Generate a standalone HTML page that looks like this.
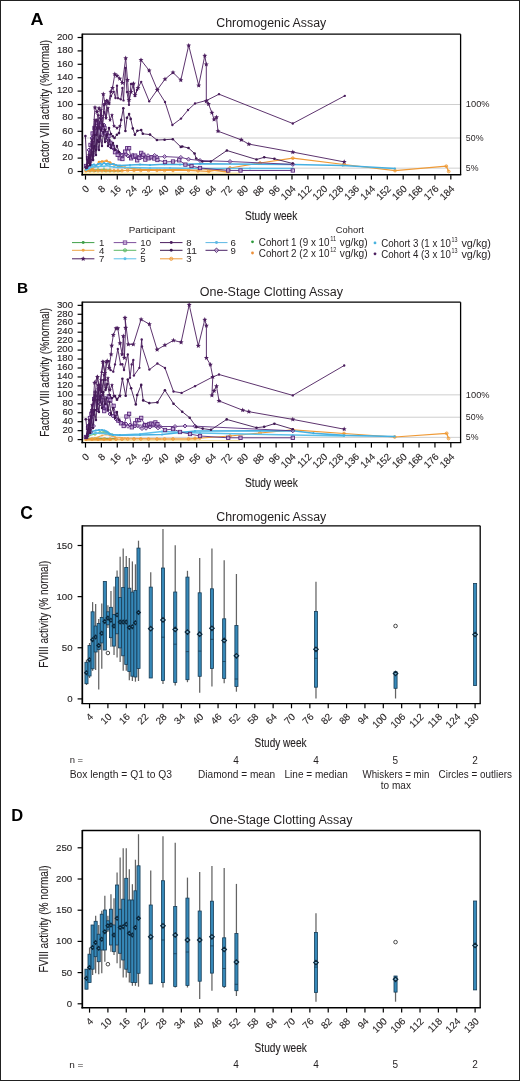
<!DOCTYPE html>
<html><head><meta charset="utf-8"><title>FVIII activity</title>
<style>
html,body{margin:0;padding:0;background:#fff;}
body{width:520px;height:1081px;overflow:hidden;}
svg{display:block;font-family:"Liberation Sans", sans-serif;}
text{-webkit-font-smoothing:antialiased;}
.s{stroke:#231f20;stroke-width:0.13px;}
</style></head>
<body>
<svg style="will-change:transform" fill="#231f20" width="520" height="1081" viewBox="0 0 520 1081">
<rect x="0" y="0" width="520" height="1081" fill="#fff"/>
<text x="30.4" y="24.9" font-size="17.2" font-weight="bold" fill="#000" textLength="13" lengthAdjust="spacingAndGlyphs">A</text>
<text x="216.3" y="27.3" font-size="12" textLength="110" lengthAdjust="spacingAndGlyphs">Chromogenic Assay</text>
<line x1="83" y1="104.5" x2="460" y2="104.5" stroke="#c9c9c9" stroke-width="0.9"/>
<line x1="83" y1="138" x2="460" y2="138" stroke="#c9c9c9" stroke-width="0.9"/>
<line x1="83" y1="168.15" x2="460" y2="168.15" stroke="#c9c9c9" stroke-width="0.9"/>
<line x1="82.3" y1="34.2" x2="460.6" y2="34.2" stroke="#000" stroke-width="1.3"/>
<line x1="460.6" y1="34.2" x2="460.6" y2="175" stroke="#000" stroke-width="1.3"/>
<line x1="82.3" y1="33.6" x2="82.3" y2="175.5" stroke="#000" stroke-width="1.7"/>
<line x1="81.5" y1="174.8" x2="461.2" y2="174.8" stroke="#000" stroke-width="1.4"/>
<line x1="77.6" y1="171.5" x2="82" y2="171.5" stroke="#000" stroke-width="1.2"/>
<text x="73" y="173.7" font-size="9.6" text-anchor="end" class="s">0</text>
<line x1="77.6" y1="158.1" x2="82" y2="158.1" stroke="#000" stroke-width="1.2"/>
<text x="73" y="160.3" font-size="9.6" text-anchor="end" class="s">20</text>
<line x1="77.6" y1="144.7" x2="82" y2="144.7" stroke="#000" stroke-width="1.2"/>
<text x="73" y="146.9" font-size="9.6" text-anchor="end" class="s">40</text>
<line x1="77.6" y1="131.3" x2="82" y2="131.3" stroke="#000" stroke-width="1.2"/>
<text x="73" y="133.5" font-size="9.6" text-anchor="end" class="s">60</text>
<line x1="77.6" y1="117.9" x2="82" y2="117.9" stroke="#000" stroke-width="1.2"/>
<text x="73" y="120.1" font-size="9.6" text-anchor="end" class="s">80</text>
<line x1="77.6" y1="104.5" x2="82" y2="104.5" stroke="#000" stroke-width="1.2"/>
<text x="73" y="106.7" font-size="9.6" text-anchor="end" class="s">100</text>
<line x1="77.6" y1="91.1" x2="82" y2="91.1" stroke="#000" stroke-width="1.2"/>
<text x="73" y="93.3" font-size="9.6" text-anchor="end" class="s">120</text>
<line x1="77.6" y1="77.7" x2="82" y2="77.7" stroke="#000" stroke-width="1.2"/>
<text x="73" y="79.9" font-size="9.6" text-anchor="end" class="s">140</text>
<line x1="77.6" y1="64.3" x2="82" y2="64.3" stroke="#000" stroke-width="1.2"/>
<text x="73" y="66.5" font-size="9.6" text-anchor="end" class="s">160</text>
<line x1="77.6" y1="50.9" x2="82" y2="50.9" stroke="#000" stroke-width="1.2"/>
<text x="73" y="53.1" font-size="9.6" text-anchor="end" class="s">180</text>
<line x1="77.6" y1="37.5" x2="82" y2="37.5" stroke="#000" stroke-width="1.2"/>
<text x="73" y="39.7" font-size="9.6" text-anchor="end" class="s">200</text>
<line x1="85.5" y1="175.3" x2="85.5" y2="179.6" stroke="#000" stroke-width="1.2"/>
<text x="0" y="0" font-size="9.8" text-anchor="end" transform="translate(89.9,189.3) rotate(-45)" class="s">0</text>
<line x1="101.38" y1="175.3" x2="101.38" y2="179.6" stroke="#000" stroke-width="1.2"/>
<text x="0" y="0" font-size="9.8" text-anchor="end" transform="translate(105.78,189.3) rotate(-45)" class="s">8</text>
<line x1="117.27" y1="175.3" x2="117.27" y2="179.6" stroke="#000" stroke-width="1.2"/>
<text x="0" y="0" font-size="9.8" text-anchor="end" transform="translate(121.67,189.3) rotate(-45)" class="s">16</text>
<line x1="133.15" y1="175.3" x2="133.15" y2="179.6" stroke="#000" stroke-width="1.2"/>
<text x="0" y="0" font-size="9.8" text-anchor="end" transform="translate(137.55,189.3) rotate(-45)" class="s">24</text>
<line x1="149.04" y1="175.3" x2="149.04" y2="179.6" stroke="#000" stroke-width="1.2"/>
<text x="0" y="0" font-size="9.8" text-anchor="end" transform="translate(153.44,189.3) rotate(-45)" class="s">32</text>
<line x1="164.92" y1="175.3" x2="164.92" y2="179.6" stroke="#000" stroke-width="1.2"/>
<text x="0" y="0" font-size="9.8" text-anchor="end" transform="translate(169.32,189.3) rotate(-45)" class="s">40</text>
<line x1="180.8" y1="175.3" x2="180.8" y2="179.6" stroke="#000" stroke-width="1.2"/>
<text x="0" y="0" font-size="9.8" text-anchor="end" transform="translate(185.2,189.3) rotate(-45)" class="s">48</text>
<line x1="196.69" y1="175.3" x2="196.69" y2="179.6" stroke="#000" stroke-width="1.2"/>
<text x="0" y="0" font-size="9.8" text-anchor="end" transform="translate(201.09,189.3) rotate(-45)" class="s">56</text>
<line x1="212.57" y1="175.3" x2="212.57" y2="179.6" stroke="#000" stroke-width="1.2"/>
<text x="0" y="0" font-size="9.8" text-anchor="end" transform="translate(216.97,189.3) rotate(-45)" class="s">64</text>
<line x1="228.46" y1="175.3" x2="228.46" y2="179.6" stroke="#000" stroke-width="1.2"/>
<text x="0" y="0" font-size="9.8" text-anchor="end" transform="translate(232.86,189.3) rotate(-45)" class="s">72</text>
<line x1="244.34" y1="175.3" x2="244.34" y2="179.6" stroke="#000" stroke-width="1.2"/>
<text x="0" y="0" font-size="9.8" text-anchor="end" transform="translate(248.74,189.3) rotate(-45)" class="s">80</text>
<line x1="260.22" y1="175.3" x2="260.22" y2="179.6" stroke="#000" stroke-width="1.2"/>
<text x="0" y="0" font-size="9.8" text-anchor="end" transform="translate(264.62,189.3) rotate(-45)" class="s">88</text>
<line x1="276.11" y1="175.3" x2="276.11" y2="179.6" stroke="#000" stroke-width="1.2"/>
<text x="0" y="0" font-size="9.8" text-anchor="end" transform="translate(280.51,189.3) rotate(-45)" class="s">96</text>
<line x1="291.99" y1="175.3" x2="291.99" y2="179.6" stroke="#000" stroke-width="1.2"/>
<text x="0" y="0" font-size="9.8" text-anchor="end" transform="translate(296.39,189.3) rotate(-45)" class="s">104</text>
<line x1="307.88" y1="175.3" x2="307.88" y2="179.6" stroke="#000" stroke-width="1.2"/>
<text x="0" y="0" font-size="9.8" text-anchor="end" transform="translate(312.28,189.3) rotate(-45)" class="s">112</text>
<line x1="323.76" y1="175.3" x2="323.76" y2="179.6" stroke="#000" stroke-width="1.2"/>
<text x="0" y="0" font-size="9.8" text-anchor="end" transform="translate(328.16,189.3) rotate(-45)" class="s">120</text>
<line x1="339.64" y1="175.3" x2="339.64" y2="179.6" stroke="#000" stroke-width="1.2"/>
<text x="0" y="0" font-size="9.8" text-anchor="end" transform="translate(344.04,189.3) rotate(-45)" class="s">128</text>
<line x1="355.53" y1="175.3" x2="355.53" y2="179.6" stroke="#000" stroke-width="1.2"/>
<text x="0" y="0" font-size="9.8" text-anchor="end" transform="translate(359.93,189.3) rotate(-45)" class="s">136</text>
<line x1="371.41" y1="175.3" x2="371.41" y2="179.6" stroke="#000" stroke-width="1.2"/>
<text x="0" y="0" font-size="9.8" text-anchor="end" transform="translate(375.81,189.3) rotate(-45)" class="s">144</text>
<line x1="387.3" y1="175.3" x2="387.3" y2="179.6" stroke="#000" stroke-width="1.2"/>
<text x="0" y="0" font-size="9.8" text-anchor="end" transform="translate(391.7,189.3) rotate(-45)" class="s">152</text>
<line x1="403.18" y1="175.3" x2="403.18" y2="179.6" stroke="#000" stroke-width="1.2"/>
<text x="0" y="0" font-size="9.8" text-anchor="end" transform="translate(407.58,189.3) rotate(-45)" class="s">160</text>
<line x1="419.06" y1="175.3" x2="419.06" y2="179.6" stroke="#000" stroke-width="1.2"/>
<text x="0" y="0" font-size="9.8" text-anchor="end" transform="translate(423.46,189.3) rotate(-45)" class="s">168</text>
<line x1="434.95" y1="175.3" x2="434.95" y2="179.6" stroke="#000" stroke-width="1.2"/>
<text x="0" y="0" font-size="9.8" text-anchor="end" transform="translate(439.35,189.3) rotate(-45)" class="s">176</text>
<line x1="450.83" y1="175.3" x2="450.83" y2="179.6" stroke="#000" stroke-width="1.2"/>
<text x="0" y="0" font-size="9.8" text-anchor="end" transform="translate(455.23,189.3) rotate(-45)" class="s">184</text>
<text x="465.8" y="107.4" font-size="9.6" textLength="23.8" lengthAdjust="spacingAndGlyphs">100%</text>
<text x="465.8" y="140.9" font-size="9.6" textLength="17.7" lengthAdjust="spacingAndGlyphs">50%</text>
<text x="465.8" y="170.55" font-size="9.6" textLength="12.7" lengthAdjust="spacingAndGlyphs">5%</text>
<text x="0" y="0" font-size="12.5" text-anchor="middle" textLength="129" lengthAdjust="spacingAndGlyphs" transform="translate(48.8,104.3) rotate(-90)" class="s">Factor VIII activity (%normal)</text>
<text x="245" y="220.3" font-size="12.8" textLength="52.3" lengthAdjust="spacingAndGlyphs" class="s">Study week</text>
<text x="128.7" y="232.8" font-size="9.4" textLength="46.5" lengthAdjust="spacingAndGlyphs">Participant</text>
<text x="335.8" y="233" font-size="9.6" textLength="28.1" lengthAdjust="spacingAndGlyphs">Cohort</text>
<line x1="72" y1="242.6" x2="94.4" y2="242.6" stroke="#3f9f48" stroke-width="1"/>
<circle cx="83.2" cy="242.6" r="1.49" fill="#3f9f48"/>
<text x="98.9" y="246" font-size="9.7" textLength="5.35" lengthAdjust="spacingAndGlyphs">1</text>
<line x1="72" y1="250.3" x2="94.4" y2="250.3" stroke="#eda445" stroke-width="1"/>
<circle cx="83.2" cy="250.3" r="1.49" fill="#eda445"/>
<text x="98.9" y="253.7" font-size="9.7" textLength="5.35" lengthAdjust="spacingAndGlyphs">4</text>
<line x1="72" y1="258.8" x2="94.4" y2="258.8" stroke="#4b1d5e" stroke-width="1"/>
<polygon points="83.2,256.2 83.89,257.85 85.67,258 84.31,259.16 84.73,260.9 83.2,259.97 81.67,260.9 82.09,259.16 80.73,258 82.51,257.85" fill="#4b1d5e"/>
<text x="98.9" y="262.2" font-size="9.7" textLength="5.35" lengthAdjust="spacingAndGlyphs">7</text>
<line x1="113.7" y1="242.6" x2="136.3" y2="242.6" stroke="#7d4f9c" stroke-width="1"/>
<rect x="123.28" y="240.88" width="3.45" height="3.45" fill="#c9a9dc" fill-opacity="0.7" stroke="#7d4f9c" stroke-width="0.9"/>
<text x="140.3" y="246" font-size="9.7" textLength="10.7" lengthAdjust="spacingAndGlyphs">10</text>
<line x1="113.7" y1="250.3" x2="136.3" y2="250.3" stroke="#5cb865" stroke-width="1"/>
<circle cx="125" cy="250.3" r="1.61" fill="#5cb865" fill-opacity="0.35" stroke="#5cb865" stroke-width="0.8"/>
<text x="140.3" y="253.7" font-size="9.7" textLength="5.35" lengthAdjust="spacingAndGlyphs">2</text>
<line x1="113.7" y1="258.8" x2="136.3" y2="258.8" stroke="#5cc0ea" stroke-width="1"/>
<circle cx="125" cy="258.8" r="1.49" fill="#5cc0ea"/>
<text x="140.3" y="262.2" font-size="9.7" textLength="5.35" lengthAdjust="spacingAndGlyphs">5</text>
<line x1="160" y1="242.6" x2="182.5" y2="242.6" stroke="#4b1d5e" stroke-width="1"/>
<circle cx="171.25" cy="242.6" r="1.49" fill="#4b1d5e"/>
<text x="186.3" y="246" font-size="9.7" textLength="5.35" lengthAdjust="spacingAndGlyphs">8</text>
<line x1="160" y1="250.3" x2="182.5" y2="250.3" stroke="#3d1850" stroke-width="1"/>
<circle cx="171.25" cy="250.3" r="1.49" fill="#3d1850"/>
<text x="186.3" y="253.7" font-size="9.7" textLength="10.7" lengthAdjust="spacingAndGlyphs">11</text>
<line x1="160" y1="258.8" x2="182.5" y2="258.8" stroke="#ee9a3a" stroke-width="1"/>
<circle cx="171.25" cy="258.8" r="1.61" fill="#ee9a3a" fill-opacity="0.35" stroke="#ee9a3a" stroke-width="0.8"/>
<text x="186.3" y="262.2" font-size="9.7" textLength="5.35" lengthAdjust="spacingAndGlyphs">3</text>
<line x1="205.5" y1="242.6" x2="227.5" y2="242.6" stroke="#5cb8e4" stroke-width="1"/>
<circle cx="216.5" cy="242.6" r="1.49" fill="#5cb8e4"/>
<text x="230.5" y="246" font-size="9.7" textLength="5.35" lengthAdjust="spacingAndGlyphs">6</text>
<line x1="205.5" y1="250.3" x2="227.5" y2="250.3" stroke="#4a2266" stroke-width="1"/>
<polygon points="216.5,248 218.8,250.3 216.5,252.6 214.2,250.3" fill="#c9a9dc" fill-opacity="0.6" stroke="#4a2266" stroke-width="0.9"/>
<text x="230.5" y="253.7" font-size="9.7" textLength="5.35" lengthAdjust="spacingAndGlyphs">9</text>
<circle cx="252.5" cy="241.8" r="1.4" fill="#2e9a3c"/>
<text x="258.75" y="246.2" font-size="10.2" textLength="70.8" lengthAdjust="spacingAndGlyphs">Cohort 1 (9 x 10</text>
<text x="330.15" y="241.2" font-size="6.6" textLength="6" lengthAdjust="spacingAndGlyphs">11</text>
<text x="339.85" y="246.2" font-size="10.2" textLength="27.8" lengthAdjust="spacingAndGlyphs">vg/kg)</text>
<circle cx="252.5" cy="253.0" r="1.4" fill="#ec8f3a"/>
<text x="258.75" y="257" font-size="10.2" textLength="70.8" lengthAdjust="spacingAndGlyphs">Cohort 2 (2 x 10</text>
<text x="330.15" y="252" font-size="6.6" textLength="6" lengthAdjust="spacingAndGlyphs">12</text>
<text x="339.85" y="257" font-size="10.2" textLength="27.8" lengthAdjust="spacingAndGlyphs">vg/kg)</text>
<circle cx="375" cy="242.9" r="1.4" fill="#49b3de"/>
<text x="381.2" y="246.7" font-size="10.2" textLength="69.6" lengthAdjust="spacingAndGlyphs">Cohort 3 (1 x 10</text>
<text x="451.4" y="241.7" font-size="6.6" textLength="6" lengthAdjust="spacingAndGlyphs">13</text>
<text x="461.4" y="246.7" font-size="10.2" textLength="29.6" lengthAdjust="spacingAndGlyphs">vg/kg)</text>
<circle cx="375" cy="253.8" r="1.4" fill="#4b1d5e"/>
<text x="381.2" y="257.7" font-size="10.2" textLength="69.6" lengthAdjust="spacingAndGlyphs">Cohort 4 (3 x 10</text>
<text x="451.4" y="252.7" font-size="6.6" textLength="6" lengthAdjust="spacingAndGlyphs">13</text>
<text x="461.4" y="257.7" font-size="10.2" textLength="29.6" lengthAdjust="spacingAndGlyphs">vg/kg)</text>
<text x="17" y="293.3" font-size="15.4" font-weight="bold" fill="#000">B</text>
<text x="199.8" y="295.5" font-size="12" textLength="143.2" lengthAdjust="spacingAndGlyphs">One-Stage Clotting Assay</text>
<line x1="83" y1="394.85" x2="460" y2="394.85" stroke="#c9c9c9" stroke-width="0.9"/>
<line x1="83" y1="417.23" x2="460" y2="417.23" stroke="#c9c9c9" stroke-width="0.9"/>
<line x1="83" y1="437.36" x2="460" y2="437.36" stroke="#c9c9c9" stroke-width="0.9"/>
<line x1="82.3" y1="302.2" x2="460.6" y2="302.2" stroke="#000" stroke-width="1.3"/>
<line x1="460.6" y1="302.2" x2="460.6" y2="442.8" stroke="#000" stroke-width="1.3"/>
<line x1="82.3" y1="301.6" x2="82.3" y2="443.2" stroke="#000" stroke-width="1.7"/>
<line x1="81.5" y1="442.6" x2="461.2" y2="442.6" stroke="#000" stroke-width="1.4"/>
<line x1="77.6" y1="439.6" x2="82" y2="439.6" stroke="#000" stroke-width="1.2"/>
<text x="73" y="441.8" font-size="9.6" text-anchor="end" textLength="5.3" lengthAdjust="spacingAndGlyphs" class="s">0</text>
<line x1="77.6" y1="430.65" x2="82" y2="430.65" stroke="#000" stroke-width="1.2"/>
<text x="73" y="432.85" font-size="9.6" text-anchor="end" textLength="10.6" lengthAdjust="spacingAndGlyphs" class="s">20</text>
<line x1="77.6" y1="421.7" x2="82" y2="421.7" stroke="#000" stroke-width="1.2"/>
<text x="73" y="423.9" font-size="9.6" text-anchor="end" textLength="10.6" lengthAdjust="spacingAndGlyphs" class="s">40</text>
<line x1="77.6" y1="412.75" x2="82" y2="412.75" stroke="#000" stroke-width="1.2"/>
<text x="73" y="414.95" font-size="9.6" text-anchor="end" textLength="10.6" lengthAdjust="spacingAndGlyphs" class="s">60</text>
<line x1="77.6" y1="403.8" x2="82" y2="403.8" stroke="#000" stroke-width="1.2"/>
<text x="73" y="406" font-size="9.6" text-anchor="end" textLength="10.6" lengthAdjust="spacingAndGlyphs" class="s">80</text>
<line x1="77.6" y1="394.85" x2="82" y2="394.85" stroke="#000" stroke-width="1.2"/>
<text x="73" y="397.05" font-size="9.6" text-anchor="end" textLength="16" lengthAdjust="spacingAndGlyphs" class="s">100</text>
<line x1="77.6" y1="385.9" x2="82" y2="385.9" stroke="#000" stroke-width="1.2"/>
<text x="73" y="388.1" font-size="9.6" text-anchor="end" textLength="16" lengthAdjust="spacingAndGlyphs" class="s">120</text>
<line x1="77.6" y1="376.95" x2="82" y2="376.95" stroke="#000" stroke-width="1.2"/>
<text x="73" y="379.15" font-size="9.6" text-anchor="end" textLength="16" lengthAdjust="spacingAndGlyphs" class="s">140</text>
<line x1="77.6" y1="368" x2="82" y2="368" stroke="#000" stroke-width="1.2"/>
<text x="73" y="370.2" font-size="9.6" text-anchor="end" textLength="16" lengthAdjust="spacingAndGlyphs" class="s">160</text>
<line x1="77.6" y1="359.05" x2="82" y2="359.05" stroke="#000" stroke-width="1.2"/>
<text x="73" y="361.25" font-size="9.6" text-anchor="end" textLength="16" lengthAdjust="spacingAndGlyphs" class="s">180</text>
<line x1="77.6" y1="350.1" x2="82" y2="350.1" stroke="#000" stroke-width="1.2"/>
<text x="73" y="352.3" font-size="9.6" text-anchor="end" textLength="16" lengthAdjust="spacingAndGlyphs" class="s">200</text>
<line x1="77.6" y1="341.15" x2="82" y2="341.15" stroke="#000" stroke-width="1.2"/>
<text x="73" y="343.35" font-size="9.6" text-anchor="end" textLength="16" lengthAdjust="spacingAndGlyphs" class="s">220</text>
<line x1="77.6" y1="332.2" x2="82" y2="332.2" stroke="#000" stroke-width="1.2"/>
<text x="73" y="334.4" font-size="9.6" text-anchor="end" textLength="16" lengthAdjust="spacingAndGlyphs" class="s">240</text>
<line x1="77.6" y1="323.25" x2="82" y2="323.25" stroke="#000" stroke-width="1.2"/>
<text x="73" y="325.45" font-size="9.6" text-anchor="end" textLength="16" lengthAdjust="spacingAndGlyphs" class="s">260</text>
<line x1="77.6" y1="314.3" x2="82" y2="314.3" stroke="#000" stroke-width="1.2"/>
<text x="73" y="316.5" font-size="9.6" text-anchor="end" textLength="16" lengthAdjust="spacingAndGlyphs" class="s">280</text>
<line x1="77.6" y1="305.35" x2="82" y2="305.35" stroke="#000" stroke-width="1.2"/>
<text x="73" y="307.55" font-size="9.6" text-anchor="end" textLength="16" lengthAdjust="spacingAndGlyphs" class="s">300</text>
<line x1="85.5" y1="443" x2="85.5" y2="447.6" stroke="#000" stroke-width="1.2"/>
<text x="0" y="0" font-size="9.8" text-anchor="end" transform="translate(89.9,457.3) rotate(-45)" class="s">0</text>
<line x1="101.38" y1="443" x2="101.38" y2="447.6" stroke="#000" stroke-width="1.2"/>
<text x="0" y="0" font-size="9.8" text-anchor="end" transform="translate(105.78,457.3) rotate(-45)" class="s">8</text>
<line x1="117.27" y1="443" x2="117.27" y2="447.6" stroke="#000" stroke-width="1.2"/>
<text x="0" y="0" font-size="9.8" text-anchor="end" transform="translate(121.67,457.3) rotate(-45)" class="s">16</text>
<line x1="133.15" y1="443" x2="133.15" y2="447.6" stroke="#000" stroke-width="1.2"/>
<text x="0" y="0" font-size="9.8" text-anchor="end" transform="translate(137.55,457.3) rotate(-45)" class="s">24</text>
<line x1="149.04" y1="443" x2="149.04" y2="447.6" stroke="#000" stroke-width="1.2"/>
<text x="0" y="0" font-size="9.8" text-anchor="end" transform="translate(153.44,457.3) rotate(-45)" class="s">32</text>
<line x1="164.92" y1="443" x2="164.92" y2="447.6" stroke="#000" stroke-width="1.2"/>
<text x="0" y="0" font-size="9.8" text-anchor="end" transform="translate(169.32,457.3) rotate(-45)" class="s">40</text>
<line x1="180.8" y1="443" x2="180.8" y2="447.6" stroke="#000" stroke-width="1.2"/>
<text x="0" y="0" font-size="9.8" text-anchor="end" transform="translate(185.2,457.3) rotate(-45)" class="s">48</text>
<line x1="196.69" y1="443" x2="196.69" y2="447.6" stroke="#000" stroke-width="1.2"/>
<text x="0" y="0" font-size="9.8" text-anchor="end" transform="translate(201.09,457.3) rotate(-45)" class="s">56</text>
<line x1="212.57" y1="443" x2="212.57" y2="447.6" stroke="#000" stroke-width="1.2"/>
<text x="0" y="0" font-size="9.8" text-anchor="end" transform="translate(216.97,457.3) rotate(-45)" class="s">64</text>
<line x1="228.46" y1="443" x2="228.46" y2="447.6" stroke="#000" stroke-width="1.2"/>
<text x="0" y="0" font-size="9.8" text-anchor="end" transform="translate(232.86,457.3) rotate(-45)" class="s">72</text>
<line x1="244.34" y1="443" x2="244.34" y2="447.6" stroke="#000" stroke-width="1.2"/>
<text x="0" y="0" font-size="9.8" text-anchor="end" transform="translate(248.74,457.3) rotate(-45)" class="s">80</text>
<line x1="260.22" y1="443" x2="260.22" y2="447.6" stroke="#000" stroke-width="1.2"/>
<text x="0" y="0" font-size="9.8" text-anchor="end" transform="translate(264.62,457.3) rotate(-45)" class="s">88</text>
<line x1="276.11" y1="443" x2="276.11" y2="447.6" stroke="#000" stroke-width="1.2"/>
<text x="0" y="0" font-size="9.8" text-anchor="end" transform="translate(280.51,457.3) rotate(-45)" class="s">96</text>
<line x1="291.99" y1="443" x2="291.99" y2="447.6" stroke="#000" stroke-width="1.2"/>
<text x="0" y="0" font-size="9.8" text-anchor="end" transform="translate(296.39,457.3) rotate(-45)" class="s">104</text>
<line x1="307.88" y1="443" x2="307.88" y2="447.6" stroke="#000" stroke-width="1.2"/>
<text x="0" y="0" font-size="9.8" text-anchor="end" transform="translate(312.28,457.3) rotate(-45)" class="s">112</text>
<line x1="323.76" y1="443" x2="323.76" y2="447.6" stroke="#000" stroke-width="1.2"/>
<text x="0" y="0" font-size="9.8" text-anchor="end" transform="translate(328.16,457.3) rotate(-45)" class="s">120</text>
<line x1="339.64" y1="443" x2="339.64" y2="447.6" stroke="#000" stroke-width="1.2"/>
<text x="0" y="0" font-size="9.8" text-anchor="end" transform="translate(344.04,457.3) rotate(-45)" class="s">128</text>
<line x1="355.53" y1="443" x2="355.53" y2="447.6" stroke="#000" stroke-width="1.2"/>
<text x="0" y="0" font-size="9.8" text-anchor="end" transform="translate(359.93,457.3) rotate(-45)" class="s">136</text>
<line x1="371.41" y1="443" x2="371.41" y2="447.6" stroke="#000" stroke-width="1.2"/>
<text x="0" y="0" font-size="9.8" text-anchor="end" transform="translate(375.81,457.3) rotate(-45)" class="s">144</text>
<line x1="387.3" y1="443" x2="387.3" y2="447.6" stroke="#000" stroke-width="1.2"/>
<text x="0" y="0" font-size="9.8" text-anchor="end" transform="translate(391.7,457.3) rotate(-45)" class="s">152</text>
<line x1="403.18" y1="443" x2="403.18" y2="447.6" stroke="#000" stroke-width="1.2"/>
<text x="0" y="0" font-size="9.8" text-anchor="end" transform="translate(407.58,457.3) rotate(-45)" class="s">160</text>
<line x1="419.06" y1="443" x2="419.06" y2="447.6" stroke="#000" stroke-width="1.2"/>
<text x="0" y="0" font-size="9.8" text-anchor="end" transform="translate(423.46,457.3) rotate(-45)" class="s">168</text>
<line x1="434.95" y1="443" x2="434.95" y2="447.6" stroke="#000" stroke-width="1.2"/>
<text x="0" y="0" font-size="9.8" text-anchor="end" transform="translate(439.35,457.3) rotate(-45)" class="s">176</text>
<line x1="450.83" y1="443" x2="450.83" y2="447.6" stroke="#000" stroke-width="1.2"/>
<text x="0" y="0" font-size="9.8" text-anchor="end" transform="translate(455.23,457.3) rotate(-45)" class="s">184</text>
<text x="465.8" y="397.75" font-size="9.6" textLength="23.8" lengthAdjust="spacingAndGlyphs">100%</text>
<text x="465.8" y="420.12" font-size="9.6" textLength="17.7" lengthAdjust="spacingAndGlyphs">50%</text>
<text x="465.8" y="439.76" font-size="9.6" textLength="12.7" lengthAdjust="spacingAndGlyphs">5%</text>
<text x="0" y="0" font-size="12.5" text-anchor="middle" textLength="129" lengthAdjust="spacingAndGlyphs" transform="translate(48.8,372.3) rotate(-90)" class="s">Factor VIII activity (%normal)</text>
<text x="245" y="486.5" font-size="12.8" textLength="52.8" lengthAdjust="spacingAndGlyphs" class="s">Study week</text>
<text x="20.3" y="519.3" font-size="17.5" font-weight="bold" fill="#000">C</text>
<text x="216.3" y="520.5" font-size="12" textLength="110" lengthAdjust="spacingAndGlyphs">Chromogenic Assay</text>
<line x1="82.3" y1="525.8" x2="480.2" y2="525.8" stroke="#000" stroke-width="1.3"/>
<line x1="480.2" y1="525.8" x2="480.2" y2="703.4" stroke="#000" stroke-width="1.3"/>
<line x1="82.3" y1="525.2" x2="82.3" y2="703.8" stroke="#000" stroke-width="1.7"/>
<line x1="81.5" y1="703.6" x2="480.8" y2="703.6" stroke="#000" stroke-width="1.4"/>
<line x1="77.6" y1="698.9" x2="82" y2="698.9" stroke="#000" stroke-width="1.2"/>
<text x="72.6" y="701.9" font-size="9.7" text-anchor="end" fill="#2a2a2a" class="s">0</text>
<line x1="77.6" y1="647.76" x2="82" y2="647.76" stroke="#000" stroke-width="1.2"/>
<text x="72.6" y="650.76" font-size="9.7" text-anchor="end" fill="#2a2a2a" class="s">50</text>
<line x1="77.6" y1="596.63" x2="82" y2="596.63" stroke="#000" stroke-width="1.2"/>
<text x="72.6" y="599.63" font-size="9.7" text-anchor="end" fill="#2a2a2a" class="s">100</text>
<line x1="77.6" y1="545.5" x2="82" y2="545.5" stroke="#000" stroke-width="1.2"/>
<text x="72.6" y="548.5" font-size="9.7" text-anchor="end" fill="#2a2a2a" class="s">150</text>
<line x1="89.54" y1="704" x2="89.54" y2="708.3" stroke="#000" stroke-width="1.2"/>
<text x="0" y="0" font-size="9.8" text-anchor="end" transform="translate(93.94,717.3) rotate(-45)" class="s">4</text>
<line x1="107.9" y1="704" x2="107.9" y2="708.3" stroke="#000" stroke-width="1.2"/>
<text x="0" y="0" font-size="9.8" text-anchor="end" transform="translate(112.3,717.3) rotate(-45)" class="s">10</text>
<line x1="126.26" y1="704" x2="126.26" y2="708.3" stroke="#000" stroke-width="1.2"/>
<text x="0" y="0" font-size="9.8" text-anchor="end" transform="translate(130.66,717.3) rotate(-45)" class="s">16</text>
<line x1="144.62" y1="704" x2="144.62" y2="708.3" stroke="#000" stroke-width="1.2"/>
<text x="0" y="0" font-size="9.8" text-anchor="end" transform="translate(149.02,717.3) rotate(-45)" class="s">22</text>
<line x1="162.98" y1="704" x2="162.98" y2="708.3" stroke="#000" stroke-width="1.2"/>
<text x="0" y="0" font-size="9.8" text-anchor="end" transform="translate(167.38,717.3) rotate(-45)" class="s">28</text>
<line x1="181.34" y1="704" x2="181.34" y2="708.3" stroke="#000" stroke-width="1.2"/>
<text x="0" y="0" font-size="9.8" text-anchor="end" transform="translate(185.74,717.3) rotate(-45)" class="s">34</text>
<line x1="199.7" y1="704" x2="199.7" y2="708.3" stroke="#000" stroke-width="1.2"/>
<text x="0" y="0" font-size="9.8" text-anchor="end" transform="translate(204.1,717.3) rotate(-45)" class="s">40</text>
<line x1="218.06" y1="704" x2="218.06" y2="708.3" stroke="#000" stroke-width="1.2"/>
<text x="0" y="0" font-size="9.8" text-anchor="end" transform="translate(222.46,717.3) rotate(-45)" class="s">46</text>
<line x1="236.42" y1="704" x2="236.42" y2="708.3" stroke="#000" stroke-width="1.2"/>
<text x="0" y="0" font-size="9.8" text-anchor="end" transform="translate(240.82,717.3) rotate(-45)" class="s">52</text>
<line x1="254.78" y1="704" x2="254.78" y2="708.3" stroke="#000" stroke-width="1.2"/>
<text x="0" y="0" font-size="9.8" text-anchor="end" transform="translate(259.18,717.3) rotate(-45)" class="s">58</text>
<line x1="273.14" y1="704" x2="273.14" y2="708.3" stroke="#000" stroke-width="1.2"/>
<text x="0" y="0" font-size="9.8" text-anchor="end" transform="translate(277.54,717.3) rotate(-45)" class="s">64</text>
<line x1="291.5" y1="704" x2="291.5" y2="708.3" stroke="#000" stroke-width="1.2"/>
<text x="0" y="0" font-size="9.8" text-anchor="end" transform="translate(295.9,717.3) rotate(-45)" class="s">70</text>
<line x1="309.86" y1="704" x2="309.86" y2="708.3" stroke="#000" stroke-width="1.2"/>
<text x="0" y="0" font-size="9.8" text-anchor="end" transform="translate(314.26,717.3) rotate(-45)" class="s">76</text>
<line x1="328.22" y1="704" x2="328.22" y2="708.3" stroke="#000" stroke-width="1.2"/>
<text x="0" y="0" font-size="9.8" text-anchor="end" transform="translate(332.62,717.3) rotate(-45)" class="s">82</text>
<line x1="346.58" y1="704" x2="346.58" y2="708.3" stroke="#000" stroke-width="1.2"/>
<text x="0" y="0" font-size="9.8" text-anchor="end" transform="translate(350.98,717.3) rotate(-45)" class="s">88</text>
<line x1="364.94" y1="704" x2="364.94" y2="708.3" stroke="#000" stroke-width="1.2"/>
<text x="0" y="0" font-size="9.8" text-anchor="end" transform="translate(369.34,717.3) rotate(-45)" class="s">94</text>
<line x1="383.3" y1="704" x2="383.3" y2="708.3" stroke="#000" stroke-width="1.2"/>
<text x="0" y="0" font-size="9.8" text-anchor="end" transform="translate(387.7,717.3) rotate(-45)" class="s">100</text>
<line x1="401.66" y1="704" x2="401.66" y2="708.3" stroke="#000" stroke-width="1.2"/>
<text x="0" y="0" font-size="9.8" text-anchor="end" transform="translate(406.06,717.3) rotate(-45)" class="s">106</text>
<line x1="420.02" y1="704" x2="420.02" y2="708.3" stroke="#000" stroke-width="1.2"/>
<text x="0" y="0" font-size="9.8" text-anchor="end" transform="translate(424.42,717.3) rotate(-45)" class="s">112</text>
<line x1="438.38" y1="704" x2="438.38" y2="708.3" stroke="#000" stroke-width="1.2"/>
<text x="0" y="0" font-size="9.8" text-anchor="end" transform="translate(442.78,717.3) rotate(-45)" class="s">118</text>
<line x1="456.74" y1="704" x2="456.74" y2="708.3" stroke="#000" stroke-width="1.2"/>
<text x="0" y="0" font-size="9.8" text-anchor="end" transform="translate(461.14,717.3) rotate(-45)" class="s">124</text>
<line x1="475.1" y1="704" x2="475.1" y2="708.3" stroke="#000" stroke-width="1.2"/>
<text x="0" y="0" font-size="9.8" text-anchor="end" transform="translate(479.5,717.3) rotate(-45)" class="s">130</text>
<text x="0" y="0" font-size="13" text-anchor="middle" textLength="107" lengthAdjust="spacingAndGlyphs" transform="translate(47.9,614.2) rotate(-90)" class="s">FVIII activity (% normal)</text>
<text x="254.6" y="747.3" font-size="12.8" textLength="51.9" lengthAdjust="spacingAndGlyphs" class="s">Study week</text>
<text x="69.7" y="762.5" font-size="9.5" textLength="13.4" lengthAdjust="spacingAndGlyphs">n =</text>
<text x="236" y="763.5" font-size="10" text-anchor="middle">4</text>
<text x="316" y="763.5" font-size="10" text-anchor="middle">4</text>
<text x="395.4" y="763.5" font-size="10" text-anchor="middle">5</text>
<text x="475" y="763.5" font-size="10" text-anchor="middle">2</text>
<text x="69.7" y="778.2" font-size="10" textLength="102.3" lengthAdjust="spacingAndGlyphs">Box length = Q1 to Q3</text>
<text x="198" y="778.2" font-size="10" textLength="77.2" lengthAdjust="spacingAndGlyphs">Diamond = mean</text>
<text x="284.5" y="778.2" font-size="10" textLength="63.3" lengthAdjust="spacingAndGlyphs">Line = median</text>
<text x="362.5" y="778.2" font-size="10" textLength="66.8" lengthAdjust="spacingAndGlyphs">Whiskers = min</text>
<text x="380.8" y="788.8" font-size="10" textLength="30.2" lengthAdjust="spacingAndGlyphs">to max</text>
<text x="438.6" y="778.2" font-size="10" textLength="73.4" lengthAdjust="spacingAndGlyphs">Circles = outliers</text>
<text x="11.3" y="821.3" font-size="16.5" font-weight="bold" fill="#000">D</text>
<text x="209.6" y="823.6" font-size="12" textLength="142.8" lengthAdjust="spacingAndGlyphs">One-Stage Clotting Assay</text>
<line x1="82.3" y1="830.5" x2="480.2" y2="830.5" stroke="#000" stroke-width="1.3"/>
<line x1="480.2" y1="830.5" x2="480.2" y2="1008" stroke="#000" stroke-width="1.3"/>
<line x1="82.3" y1="830" x2="82.3" y2="1008.4" stroke="#000" stroke-width="1.7"/>
<line x1="81.5" y1="1007.8" x2="480.8" y2="1007.8" stroke="#000" stroke-width="1.4"/>
<line x1="77.6" y1="1003.8" x2="82" y2="1003.8" stroke="#000" stroke-width="1.2"/>
<text x="72.2" y="1006.8" font-size="9.7" text-anchor="end" fill="#2a2a2a" class="s">0</text>
<line x1="77.6" y1="972.6" x2="82" y2="972.6" stroke="#000" stroke-width="1.2"/>
<text x="72.2" y="975.6" font-size="9.7" text-anchor="end" fill="#2a2a2a" class="s">50</text>
<line x1="77.6" y1="941.4" x2="82" y2="941.4" stroke="#000" stroke-width="1.2"/>
<text x="72.2" y="944.4" font-size="9.7" text-anchor="end" fill="#2a2a2a" class="s">100</text>
<line x1="77.6" y1="910.2" x2="82" y2="910.2" stroke="#000" stroke-width="1.2"/>
<text x="72.2" y="913.2" font-size="9.7" text-anchor="end" fill="#2a2a2a" class="s">150</text>
<line x1="77.6" y1="879" x2="82" y2="879" stroke="#000" stroke-width="1.2"/>
<text x="72.2" y="882" font-size="9.7" text-anchor="end" fill="#2a2a2a" class="s">200</text>
<line x1="77.6" y1="847.8" x2="82" y2="847.8" stroke="#000" stroke-width="1.2"/>
<text x="72.2" y="850.8" font-size="9.7" text-anchor="end" fill="#2a2a2a" class="s">250</text>
<line x1="89.54" y1="1008.2" x2="89.54" y2="1012.6" stroke="#000" stroke-width="1.2"/>
<text x="0" y="0" font-size="9.8" text-anchor="end" transform="translate(93.94,1021.9) rotate(-45)" class="s">4</text>
<line x1="107.9" y1="1008.2" x2="107.9" y2="1012.6" stroke="#000" stroke-width="1.2"/>
<text x="0" y="0" font-size="9.8" text-anchor="end" transform="translate(112.3,1021.9) rotate(-45)" class="s">10</text>
<line x1="126.26" y1="1008.2" x2="126.26" y2="1012.6" stroke="#000" stroke-width="1.2"/>
<text x="0" y="0" font-size="9.8" text-anchor="end" transform="translate(130.66,1021.9) rotate(-45)" class="s">16</text>
<line x1="144.62" y1="1008.2" x2="144.62" y2="1012.6" stroke="#000" stroke-width="1.2"/>
<text x="0" y="0" font-size="9.8" text-anchor="end" transform="translate(149.02,1021.9) rotate(-45)" class="s">22</text>
<line x1="162.98" y1="1008.2" x2="162.98" y2="1012.6" stroke="#000" stroke-width="1.2"/>
<text x="0" y="0" font-size="9.8" text-anchor="end" transform="translate(167.38,1021.9) rotate(-45)" class="s">28</text>
<line x1="181.34" y1="1008.2" x2="181.34" y2="1012.6" stroke="#000" stroke-width="1.2"/>
<text x="0" y="0" font-size="9.8" text-anchor="end" transform="translate(185.74,1021.9) rotate(-45)" class="s">34</text>
<line x1="199.7" y1="1008.2" x2="199.7" y2="1012.6" stroke="#000" stroke-width="1.2"/>
<text x="0" y="0" font-size="9.8" text-anchor="end" transform="translate(204.1,1021.9) rotate(-45)" class="s">40</text>
<line x1="218.06" y1="1008.2" x2="218.06" y2="1012.6" stroke="#000" stroke-width="1.2"/>
<text x="0" y="0" font-size="9.8" text-anchor="end" transform="translate(222.46,1021.9) rotate(-45)" class="s">46</text>
<line x1="236.42" y1="1008.2" x2="236.42" y2="1012.6" stroke="#000" stroke-width="1.2"/>
<text x="0" y="0" font-size="9.8" text-anchor="end" transform="translate(240.82,1021.9) rotate(-45)" class="s">52</text>
<line x1="254.78" y1="1008.2" x2="254.78" y2="1012.6" stroke="#000" stroke-width="1.2"/>
<text x="0" y="0" font-size="9.8" text-anchor="end" transform="translate(259.18,1021.9) rotate(-45)" class="s">58</text>
<line x1="273.14" y1="1008.2" x2="273.14" y2="1012.6" stroke="#000" stroke-width="1.2"/>
<text x="0" y="0" font-size="9.8" text-anchor="end" transform="translate(277.54,1021.9) rotate(-45)" class="s">64</text>
<line x1="291.5" y1="1008.2" x2="291.5" y2="1012.6" stroke="#000" stroke-width="1.2"/>
<text x="0" y="0" font-size="9.8" text-anchor="end" transform="translate(295.9,1021.9) rotate(-45)" class="s">70</text>
<line x1="309.86" y1="1008.2" x2="309.86" y2="1012.6" stroke="#000" stroke-width="1.2"/>
<text x="0" y="0" font-size="9.8" text-anchor="end" transform="translate(314.26,1021.9) rotate(-45)" class="s">76</text>
<line x1="328.22" y1="1008.2" x2="328.22" y2="1012.6" stroke="#000" stroke-width="1.2"/>
<text x="0" y="0" font-size="9.8" text-anchor="end" transform="translate(332.62,1021.9) rotate(-45)" class="s">82</text>
<line x1="346.58" y1="1008.2" x2="346.58" y2="1012.6" stroke="#000" stroke-width="1.2"/>
<text x="0" y="0" font-size="9.8" text-anchor="end" transform="translate(350.98,1021.9) rotate(-45)" class="s">88</text>
<line x1="364.94" y1="1008.2" x2="364.94" y2="1012.6" stroke="#000" stroke-width="1.2"/>
<text x="0" y="0" font-size="9.8" text-anchor="end" transform="translate(369.34,1021.9) rotate(-45)" class="s">94</text>
<line x1="383.3" y1="1008.2" x2="383.3" y2="1012.6" stroke="#000" stroke-width="1.2"/>
<text x="0" y="0" font-size="9.8" text-anchor="end" transform="translate(387.7,1021.9) rotate(-45)" class="s">100</text>
<line x1="401.66" y1="1008.2" x2="401.66" y2="1012.6" stroke="#000" stroke-width="1.2"/>
<text x="0" y="0" font-size="9.8" text-anchor="end" transform="translate(406.06,1021.9) rotate(-45)" class="s">106</text>
<line x1="420.02" y1="1008.2" x2="420.02" y2="1012.6" stroke="#000" stroke-width="1.2"/>
<text x="0" y="0" font-size="9.8" text-anchor="end" transform="translate(424.42,1021.9) rotate(-45)" class="s">112</text>
<line x1="438.38" y1="1008.2" x2="438.38" y2="1012.6" stroke="#000" stroke-width="1.2"/>
<text x="0" y="0" font-size="9.8" text-anchor="end" transform="translate(442.78,1021.9) rotate(-45)" class="s">118</text>
<line x1="456.74" y1="1008.2" x2="456.74" y2="1012.6" stroke="#000" stroke-width="1.2"/>
<text x="0" y="0" font-size="9.8" text-anchor="end" transform="translate(461.14,1021.9) rotate(-45)" class="s">124</text>
<line x1="475.1" y1="1008.2" x2="475.1" y2="1012.6" stroke="#000" stroke-width="1.2"/>
<text x="0" y="0" font-size="9.8" text-anchor="end" transform="translate(479.5,1021.9) rotate(-45)" class="s">130</text>
<text x="0" y="0" font-size="13" text-anchor="middle" textLength="107" lengthAdjust="spacingAndGlyphs" transform="translate(47.9,919) rotate(-90)" class="s">FVIII activity (% normal)</text>
<text x="254.6" y="1051.6" font-size="12.8" textLength="52.3" lengthAdjust="spacingAndGlyphs" class="s">Study week</text>
<text x="69.2" y="1068.3" font-size="9.5" textLength="14.2" lengthAdjust="spacingAndGlyphs">n =</text>
<text x="236" y="1068.2" font-size="10" text-anchor="middle">4</text>
<text x="316" y="1068.2" font-size="10" text-anchor="middle">4</text>
<text x="395.4" y="1068.2" font-size="10" text-anchor="middle">5</text>
<text x="475" y="1068.2" font-size="10" text-anchor="middle">2</text>
<polyline points="83,173.3 240,173.3" fill="none" stroke="#f4e3a6" stroke-width="1.6" stroke-linejoin="round"/>
<polyline points="86,170 92,169.5 98,169.8 104,169.6 110,170" fill="none" stroke="#72c272" stroke-width="1.2" stroke-linejoin="round"/>
<circle cx="86" cy="170" r="1.12" fill="#72c272" fill-opacity="0.35" stroke="#72c272" stroke-width="0.8"/>
<circle cx="92" cy="169.5" r="1.12" fill="#72c272" fill-opacity="0.35" stroke="#72c272" stroke-width="0.8"/>
<circle cx="98" cy="169.8" r="1.12" fill="#72c272" fill-opacity="0.35" stroke="#72c272" stroke-width="0.8"/>
<circle cx="104" cy="169.6" r="1.12" fill="#72c272" fill-opacity="0.35" stroke="#72c272" stroke-width="0.8"/>
<circle cx="110" cy="170" r="1.12" fill="#72c272" fill-opacity="0.35" stroke="#72c272" stroke-width="0.8"/>
<polyline points="86,171 90,170.8 95,171 100,170.5 105,170.8 110,171 115,170.8 120,171" fill="none" stroke="#45a84e" stroke-width="1.2" stroke-linejoin="round"/>
<circle cx="86" cy="171" r="0.9" fill="#45a84e"/>
<circle cx="90" cy="170.8" r="0.9" fill="#45a84e"/>
<circle cx="95" cy="171" r="0.9" fill="#45a84e"/>
<circle cx="100" cy="170.5" r="0.9" fill="#45a84e"/>
<circle cx="105" cy="170.8" r="0.9" fill="#45a84e"/>
<circle cx="110" cy="171" r="0.9" fill="#45a84e"/>
<circle cx="115" cy="170.8" r="0.9" fill="#45a84e"/>
<circle cx="120" cy="171" r="0.9" fill="#45a84e"/>
<polyline points="86,171 92,169 96,166 99,162 102,161.5 106.6,160.8 110,162.5 114,164.5 118,166 125,167.5 140,169.5 160,170 200,168.5 228,172" fill="none" stroke="#ef9a36" stroke-width="1.3" stroke-linejoin="round"/>
<circle cx="86" cy="171" r="1.3" fill="#ef9a36"/>
<circle cx="92" cy="169" r="1.3" fill="#ef9a36"/>
<circle cx="96" cy="166" r="1.3" fill="#ef9a36"/>
<circle cx="99" cy="162" r="1.3" fill="#ef9a36"/>
<circle cx="102" cy="161.5" r="1.3" fill="#ef9a36"/>
<circle cx="106.6" cy="160.8" r="1.3" fill="#ef9a36"/>
<circle cx="110" cy="162.5" r="1.3" fill="#ef9a36"/>
<circle cx="114" cy="164.5" r="1.3" fill="#ef9a36"/>
<circle cx="118" cy="166" r="1.3" fill="#ef9a36"/>
<circle cx="125" cy="167.5" r="1.3" fill="#ef9a36"/>
<circle cx="140" cy="169.5" r="1.3" fill="#ef9a36"/>
<circle cx="160" cy="170" r="1.3" fill="#ef9a36"/>
<circle cx="200" cy="168.5" r="1.3" fill="#ef9a36"/>
<circle cx="228" cy="172" r="1.3" fill="#ef9a36"/>
<polyline points="86,170.6 90,170.6 94,170.6 98,170.6 102,170.6 106,170.6 110,170.6 114,170.6 118,170.6 122,170.6 127.7,170.4 134,170.4 140.8,170.4 148.5,170.4 157,170.4 164.6,170.4 173,170.4 188.5,170.4 198,170.8 208.7,171.3 230,168 260,163 292.8,158.2 344,164.5 395,170.6 446.3,166.2 448.7,171.5" fill="none" stroke="#ef9a36" stroke-width="1.2" stroke-linejoin="round"/>
<circle cx="86" cy="170.6" r="1.4" fill="#ef9a36" fill-opacity="0.35" stroke="#ef9a36" stroke-width="0.8"/>
<circle cx="90" cy="170.6" r="1.4" fill="#ef9a36" fill-opacity="0.35" stroke="#ef9a36" stroke-width="0.8"/>
<circle cx="94" cy="170.6" r="1.4" fill="#ef9a36" fill-opacity="0.35" stroke="#ef9a36" stroke-width="0.8"/>
<circle cx="98" cy="170.6" r="1.4" fill="#ef9a36" fill-opacity="0.35" stroke="#ef9a36" stroke-width="0.8"/>
<circle cx="102" cy="170.6" r="1.4" fill="#ef9a36" fill-opacity="0.35" stroke="#ef9a36" stroke-width="0.8"/>
<circle cx="106" cy="170.6" r="1.4" fill="#ef9a36" fill-opacity="0.35" stroke="#ef9a36" stroke-width="0.8"/>
<circle cx="110" cy="170.6" r="1.4" fill="#ef9a36" fill-opacity="0.35" stroke="#ef9a36" stroke-width="0.8"/>
<circle cx="114" cy="170.6" r="1.4" fill="#ef9a36" fill-opacity="0.35" stroke="#ef9a36" stroke-width="0.8"/>
<circle cx="118" cy="170.6" r="1.4" fill="#ef9a36" fill-opacity="0.35" stroke="#ef9a36" stroke-width="0.8"/>
<circle cx="122" cy="170.6" r="1.4" fill="#ef9a36" fill-opacity="0.35" stroke="#ef9a36" stroke-width="0.8"/>
<circle cx="127.7" cy="170.4" r="1.4" fill="#ef9a36" fill-opacity="0.35" stroke="#ef9a36" stroke-width="0.8"/>
<circle cx="134" cy="170.4" r="1.4" fill="#ef9a36" fill-opacity="0.35" stroke="#ef9a36" stroke-width="0.8"/>
<circle cx="140.8" cy="170.4" r="1.4" fill="#ef9a36" fill-opacity="0.35" stroke="#ef9a36" stroke-width="0.8"/>
<circle cx="148.5" cy="170.4" r="1.4" fill="#ef9a36" fill-opacity="0.35" stroke="#ef9a36" stroke-width="0.8"/>
<circle cx="157" cy="170.4" r="1.4" fill="#ef9a36" fill-opacity="0.35" stroke="#ef9a36" stroke-width="0.8"/>
<circle cx="164.6" cy="170.4" r="1.4" fill="#ef9a36" fill-opacity="0.35" stroke="#ef9a36" stroke-width="0.8"/>
<circle cx="173" cy="170.4" r="1.4" fill="#ef9a36" fill-opacity="0.35" stroke="#ef9a36" stroke-width="0.8"/>
<circle cx="188.5" cy="170.4" r="1.4" fill="#ef9a36" fill-opacity="0.35" stroke="#ef9a36" stroke-width="0.8"/>
<circle cx="198" cy="170.8" r="1.4" fill="#ef9a36" fill-opacity="0.35" stroke="#ef9a36" stroke-width="0.8"/>
<circle cx="208.7" cy="171.3" r="1.4" fill="#ef9a36" fill-opacity="0.35" stroke="#ef9a36" stroke-width="0.8"/>
<circle cx="230" cy="168" r="1.4" fill="#ef9a36" fill-opacity="0.35" stroke="#ef9a36" stroke-width="0.8"/>
<circle cx="260" cy="163" r="1.4" fill="#ef9a36" fill-opacity="0.35" stroke="#ef9a36" stroke-width="0.8"/>
<circle cx="292.8" cy="158.2" r="1.4" fill="#ef9a36" fill-opacity="0.35" stroke="#ef9a36" stroke-width="0.8"/>
<circle cx="344" cy="164.5" r="1.4" fill="#ef9a36" fill-opacity="0.35" stroke="#ef9a36" stroke-width="0.8"/>
<circle cx="395" cy="170.6" r="1.4" fill="#ef9a36" fill-opacity="0.35" stroke="#ef9a36" stroke-width="0.8"/>
<circle cx="446.3" cy="166.2" r="1.4" fill="#ef9a36" fill-opacity="0.35" stroke="#ef9a36" stroke-width="0.8"/>
<circle cx="448.7" cy="171.5" r="1.4" fill="#ef9a36" fill-opacity="0.35" stroke="#ef9a36" stroke-width="0.8"/>
<polyline points="86,170 89,168.5 92,167 95,166.5 98,166.8 101,166 104,166.5 107,165.5 110,166.5 114,167 118,167.5 130,167.5 150,168 170,168 200,168.5 250,168.5 292.8,168.5" fill="none" stroke="#5cc0ea" stroke-width="1.5" stroke-linejoin="round"/>
<circle cx="86" cy="170" r="1.08" fill="#5cc0ea"/>
<circle cx="89" cy="168.5" r="1.08" fill="#5cc0ea"/>
<circle cx="92" cy="167" r="1.08" fill="#5cc0ea"/>
<circle cx="95" cy="166.5" r="1.08" fill="#5cc0ea"/>
<circle cx="98" cy="166.8" r="1.08" fill="#5cc0ea"/>
<circle cx="101" cy="166" r="1.08" fill="#5cc0ea"/>
<circle cx="104" cy="166.5" r="1.08" fill="#5cc0ea"/>
<circle cx="107" cy="165.5" r="1.08" fill="#5cc0ea"/>
<circle cx="110" cy="166.5" r="1.08" fill="#5cc0ea"/>
<circle cx="114" cy="167" r="1.08" fill="#5cc0ea"/>
<circle cx="118" cy="167.5" r="1.08" fill="#5cc0ea"/>
<circle cx="130" cy="167.5" r="1.08" fill="#5cc0ea"/>
<circle cx="150" cy="168" r="1.08" fill="#5cc0ea"/>
<circle cx="170" cy="168" r="1.08" fill="#5cc0ea"/>
<circle cx="200" cy="168.5" r="1.08" fill="#5cc0ea"/>
<circle cx="250" cy="168.5" r="1.08" fill="#5cc0ea"/>
<circle cx="292.8" cy="168.5" r="1.08" fill="#5cc0ea"/>
<polyline points="86,169 88,167 90,166 92,165 94,164.5 96,165.5 98,164 100,163.5 102,164.5 104,163 106,164 108,163.5 110,164.5 113,164 116,165 120,165.5 130,165 140,164.5 150,165 164.6,164.2 180,164.5 200,163.8 292.8,164.4 342.7,165.6 395,168.5" fill="none" stroke="#45b0e2" stroke-width="1.5" stroke-linejoin="round"/>
<circle cx="86" cy="169" r="1.08" fill="#45b0e2"/>
<circle cx="88" cy="167" r="1.08" fill="#45b0e2"/>
<circle cx="90" cy="166" r="1.08" fill="#45b0e2"/>
<circle cx="92" cy="165" r="1.08" fill="#45b0e2"/>
<circle cx="94" cy="164.5" r="1.08" fill="#45b0e2"/>
<circle cx="96" cy="165.5" r="1.08" fill="#45b0e2"/>
<circle cx="98" cy="164" r="1.08" fill="#45b0e2"/>
<circle cx="100" cy="163.5" r="1.08" fill="#45b0e2"/>
<circle cx="102" cy="164.5" r="1.08" fill="#45b0e2"/>
<circle cx="104" cy="163" r="1.08" fill="#45b0e2"/>
<circle cx="106" cy="164" r="1.08" fill="#45b0e2"/>
<circle cx="108" cy="163.5" r="1.08" fill="#45b0e2"/>
<circle cx="110" cy="164.5" r="1.08" fill="#45b0e2"/>
<circle cx="113" cy="164" r="1.08" fill="#45b0e2"/>
<circle cx="116" cy="165" r="1.08" fill="#45b0e2"/>
<circle cx="120" cy="165.5" r="1.08" fill="#45b0e2"/>
<circle cx="130" cy="165" r="1.08" fill="#45b0e2"/>
<circle cx="140" cy="164.5" r="1.08" fill="#45b0e2"/>
<circle cx="150" cy="165" r="1.08" fill="#45b0e2"/>
<circle cx="164.6" cy="164.2" r="1.08" fill="#45b0e2"/>
<circle cx="180" cy="164.5" r="1.08" fill="#45b0e2"/>
<circle cx="200" cy="163.8" r="1.08" fill="#45b0e2"/>
<circle cx="292.8" cy="164.4" r="1.08" fill="#45b0e2"/>
<circle cx="342.7" cy="165.6" r="1.08" fill="#45b0e2"/>
<circle cx="395" cy="168.5" r="1.08" fill="#45b0e2"/>
<polyline points="87,166 89,150 90.5,160 92,138 93.5,155 95,128 96.5,148 98,122 99.5,140 101,118 102.5,135 104,125 106,140 108,135 110,146 113,148 116,151 119,153 122,155 124,154.63 126,154.27 128,156 130.33,156.94 132.67,154.96 135,157 137.33,157.14 139.67,156.46 142,157 144,155.41 146,157.38 148,155.67 150,157.7 152.3,157.17 154.6,155.45 156.9,156.9 164.6,156.6 180.8,157.4 188.5,159.2 200,160.5 230,161.5 292.8,164.4" fill="none" stroke="#5a2f7e" stroke-width="0.9" stroke-linejoin="round"/>
<polygon points="87,164 89,166 87,168 85,166" fill="#c9a9dc" fill-opacity="0.6" stroke="#5a2f7e" stroke-width="0.9"/>
<polygon points="89,148 91,150 89,152 87,150" fill="#c9a9dc" fill-opacity="0.6" stroke="#5a2f7e" stroke-width="0.9"/>
<polygon points="90.5,158 92.5,160 90.5,162 88.5,160" fill="#c9a9dc" fill-opacity="0.6" stroke="#5a2f7e" stroke-width="0.9"/>
<polygon points="92,136 94,138 92,140 90,138" fill="#c9a9dc" fill-opacity="0.6" stroke="#5a2f7e" stroke-width="0.9"/>
<polygon points="93.5,153 95.5,155 93.5,157 91.5,155" fill="#c9a9dc" fill-opacity="0.6" stroke="#5a2f7e" stroke-width="0.9"/>
<polygon points="95,126 97,128 95,130 93,128" fill="#c9a9dc" fill-opacity="0.6" stroke="#5a2f7e" stroke-width="0.9"/>
<polygon points="96.5,146 98.5,148 96.5,150 94.5,148" fill="#c9a9dc" fill-opacity="0.6" stroke="#5a2f7e" stroke-width="0.9"/>
<polygon points="98,120 100,122 98,124 96,122" fill="#c9a9dc" fill-opacity="0.6" stroke="#5a2f7e" stroke-width="0.9"/>
<polygon points="99.5,138 101.5,140 99.5,142 97.5,140" fill="#c9a9dc" fill-opacity="0.6" stroke="#5a2f7e" stroke-width="0.9"/>
<polygon points="101,116 103,118 101,120 99,118" fill="#c9a9dc" fill-opacity="0.6" stroke="#5a2f7e" stroke-width="0.9"/>
<polygon points="102.5,133 104.5,135 102.5,137 100.5,135" fill="#c9a9dc" fill-opacity="0.6" stroke="#5a2f7e" stroke-width="0.9"/>
<polygon points="104,123 106,125 104,127 102,125" fill="#c9a9dc" fill-opacity="0.6" stroke="#5a2f7e" stroke-width="0.9"/>
<polygon points="106,138 108,140 106,142 104,140" fill="#c9a9dc" fill-opacity="0.6" stroke="#5a2f7e" stroke-width="0.9"/>
<polygon points="108,133 110,135 108,137 106,135" fill="#c9a9dc" fill-opacity="0.6" stroke="#5a2f7e" stroke-width="0.9"/>
<polygon points="110,144 112,146 110,148 108,146" fill="#c9a9dc" fill-opacity="0.6" stroke="#5a2f7e" stroke-width="0.9"/>
<polygon points="113,146 115,148 113,150 111,148" fill="#c9a9dc" fill-opacity="0.6" stroke="#5a2f7e" stroke-width="0.9"/>
<polygon points="116,149 118,151 116,153 114,151" fill="#c9a9dc" fill-opacity="0.6" stroke="#5a2f7e" stroke-width="0.9"/>
<polygon points="119,151 121,153 119,155 117,153" fill="#c9a9dc" fill-opacity="0.6" stroke="#5a2f7e" stroke-width="0.9"/>
<polygon points="122,153 124,155 122,157 120,155" fill="#c9a9dc" fill-opacity="0.6" stroke="#5a2f7e" stroke-width="0.9"/>
<polygon points="124,152.63 126,154.63 124,156.63 122,154.63" fill="#c9a9dc" fill-opacity="0.6" stroke="#5a2f7e" stroke-width="0.9"/>
<polygon points="126,152.27 128,154.27 126,156.27 124,154.27" fill="#c9a9dc" fill-opacity="0.6" stroke="#5a2f7e" stroke-width="0.9"/>
<polygon points="128,154 130,156 128,158 126,156" fill="#c9a9dc" fill-opacity="0.6" stroke="#5a2f7e" stroke-width="0.9"/>
<polygon points="130.33,154.94 132.33,156.94 130.33,158.94 128.33,156.94" fill="#c9a9dc" fill-opacity="0.6" stroke="#5a2f7e" stroke-width="0.9"/>
<polygon points="132.67,152.96 134.67,154.96 132.67,156.96 130.67,154.96" fill="#c9a9dc" fill-opacity="0.6" stroke="#5a2f7e" stroke-width="0.9"/>
<polygon points="135,155 137,157 135,159 133,157" fill="#c9a9dc" fill-opacity="0.6" stroke="#5a2f7e" stroke-width="0.9"/>
<polygon points="137.33,155.14 139.33,157.14 137.33,159.14 135.33,157.14" fill="#c9a9dc" fill-opacity="0.6" stroke="#5a2f7e" stroke-width="0.9"/>
<polygon points="139.67,154.46 141.67,156.46 139.67,158.46 137.67,156.46" fill="#c9a9dc" fill-opacity="0.6" stroke="#5a2f7e" stroke-width="0.9"/>
<polygon points="142,155 144,157 142,159 140,157" fill="#c9a9dc" fill-opacity="0.6" stroke="#5a2f7e" stroke-width="0.9"/>
<polygon points="144,153.41 146,155.41 144,157.41 142,155.41" fill="#c9a9dc" fill-opacity="0.6" stroke="#5a2f7e" stroke-width="0.9"/>
<polygon points="146,155.38 148,157.38 146,159.38 144,157.38" fill="#c9a9dc" fill-opacity="0.6" stroke="#5a2f7e" stroke-width="0.9"/>
<polygon points="148,153.67 150,155.67 148,157.67 146,155.67" fill="#c9a9dc" fill-opacity="0.6" stroke="#5a2f7e" stroke-width="0.9"/>
<polygon points="150,155.7 152,157.7 150,159.7 148,157.7" fill="#c9a9dc" fill-opacity="0.6" stroke="#5a2f7e" stroke-width="0.9"/>
<polygon points="152.3,155.17 154.3,157.17 152.3,159.17 150.3,157.17" fill="#c9a9dc" fill-opacity="0.6" stroke="#5a2f7e" stroke-width="0.9"/>
<polygon points="154.6,153.45 156.6,155.45 154.6,157.45 152.6,155.45" fill="#c9a9dc" fill-opacity="0.6" stroke="#5a2f7e" stroke-width="0.9"/>
<polygon points="156.9,154.9 158.9,156.9 156.9,158.9 154.9,156.9" fill="#c9a9dc" fill-opacity="0.6" stroke="#5a2f7e" stroke-width="0.9"/>
<polygon points="164.6,154.6 166.6,156.6 164.6,158.6 162.6,156.6" fill="#c9a9dc" fill-opacity="0.6" stroke="#5a2f7e" stroke-width="0.9"/>
<polygon points="180.8,155.4 182.8,157.4 180.8,159.4 178.8,157.4" fill="#c9a9dc" fill-opacity="0.6" stroke="#5a2f7e" stroke-width="0.9"/>
<polygon points="188.5,157.2 190.5,159.2 188.5,161.2 186.5,159.2" fill="#c9a9dc" fill-opacity="0.6" stroke="#5a2f7e" stroke-width="0.9"/>
<polygon points="200,158.5 202,160.5 200,162.5 198,160.5" fill="#c9a9dc" fill-opacity="0.6" stroke="#5a2f7e" stroke-width="0.9"/>
<polygon points="230,159.5 232,161.5 230,163.5 228,161.5" fill="#c9a9dc" fill-opacity="0.6" stroke="#5a2f7e" stroke-width="0.9"/>
<polygon points="292.8,162.4 294.8,164.4 292.8,166.4 290.8,164.4" fill="#c9a9dc" fill-opacity="0.6" stroke="#5a2f7e" stroke-width="0.9"/>
<polyline points="86,166 88,158 90.5,144.9 92.6,133.5 94.5,128 96.5,123 98.5,128 100.5,125 102.5,130 104.5,128 106.5,133 108.5,136 110.3,142.8 113,146.8 115,152.2 117.7,154.9 119.7,158.3 122.4,159 125.1,151.6 127.1,148.26 129.1,148.2 131.1,158.3 133.15,156.65 135.2,155.6 137.2,160.3 139.2,157.91 141.2,152.9 143.25,154.75 145.3,159.6 148.6,158.3 151.45,157.29 154.3,158.5 157.4,160 165,162 173,161.5 179.2,160.3 185.4,164.6 191.5,166 200,168 228.2,170.5 240.5,170.5 292.8,170.5" fill="none" stroke="#5a2a7c" stroke-width="0.9" stroke-linejoin="round"/>
<rect x="84.35" y="164.35" width="3.3" height="3.3" fill="#c9a9dc" fill-opacity="0.7" stroke="#5a2a7c" stroke-width="0.9"/>
<rect x="86.35" y="156.35" width="3.3" height="3.3" fill="#c9a9dc" fill-opacity="0.7" stroke="#5a2a7c" stroke-width="0.9"/>
<rect x="88.85" y="143.25" width="3.3" height="3.3" fill="#c9a9dc" fill-opacity="0.7" stroke="#5a2a7c" stroke-width="0.9"/>
<rect x="90.95" y="131.85" width="3.3" height="3.3" fill="#c9a9dc" fill-opacity="0.7" stroke="#5a2a7c" stroke-width="0.9"/>
<rect x="92.85" y="126.35" width="3.3" height="3.3" fill="#c9a9dc" fill-opacity="0.7" stroke="#5a2a7c" stroke-width="0.9"/>
<rect x="94.85" y="121.35" width="3.3" height="3.3" fill="#c9a9dc" fill-opacity="0.7" stroke="#5a2a7c" stroke-width="0.9"/>
<rect x="96.85" y="126.35" width="3.3" height="3.3" fill="#c9a9dc" fill-opacity="0.7" stroke="#5a2a7c" stroke-width="0.9"/>
<rect x="98.85" y="123.35" width="3.3" height="3.3" fill="#c9a9dc" fill-opacity="0.7" stroke="#5a2a7c" stroke-width="0.9"/>
<rect x="100.85" y="128.35" width="3.3" height="3.3" fill="#c9a9dc" fill-opacity="0.7" stroke="#5a2a7c" stroke-width="0.9"/>
<rect x="102.85" y="126.35" width="3.3" height="3.3" fill="#c9a9dc" fill-opacity="0.7" stroke="#5a2a7c" stroke-width="0.9"/>
<rect x="104.85" y="131.35" width="3.3" height="3.3" fill="#c9a9dc" fill-opacity="0.7" stroke="#5a2a7c" stroke-width="0.9"/>
<rect x="106.85" y="134.35" width="3.3" height="3.3" fill="#c9a9dc" fill-opacity="0.7" stroke="#5a2a7c" stroke-width="0.9"/>
<rect x="108.65" y="141.15" width="3.3" height="3.3" fill="#c9a9dc" fill-opacity="0.7" stroke="#5a2a7c" stroke-width="0.9"/>
<rect x="111.35" y="145.15" width="3.3" height="3.3" fill="#c9a9dc" fill-opacity="0.7" stroke="#5a2a7c" stroke-width="0.9"/>
<rect x="113.35" y="150.55" width="3.3" height="3.3" fill="#c9a9dc" fill-opacity="0.7" stroke="#5a2a7c" stroke-width="0.9"/>
<rect x="116.05" y="153.25" width="3.3" height="3.3" fill="#c9a9dc" fill-opacity="0.7" stroke="#5a2a7c" stroke-width="0.9"/>
<rect x="118.05" y="156.65" width="3.3" height="3.3" fill="#c9a9dc" fill-opacity="0.7" stroke="#5a2a7c" stroke-width="0.9"/>
<rect x="120.75" y="157.35" width="3.3" height="3.3" fill="#c9a9dc" fill-opacity="0.7" stroke="#5a2a7c" stroke-width="0.9"/>
<rect x="123.45" y="149.95" width="3.3" height="3.3" fill="#c9a9dc" fill-opacity="0.7" stroke="#5a2a7c" stroke-width="0.9"/>
<rect x="125.45" y="146.61" width="3.3" height="3.3" fill="#c9a9dc" fill-opacity="0.7" stroke="#5a2a7c" stroke-width="0.9"/>
<rect x="127.45" y="146.55" width="3.3" height="3.3" fill="#c9a9dc" fill-opacity="0.7" stroke="#5a2a7c" stroke-width="0.9"/>
<rect x="129.45" y="156.65" width="3.3" height="3.3" fill="#c9a9dc" fill-opacity="0.7" stroke="#5a2a7c" stroke-width="0.9"/>
<rect x="131.5" y="155" width="3.3" height="3.3" fill="#c9a9dc" fill-opacity="0.7" stroke="#5a2a7c" stroke-width="0.9"/>
<rect x="133.55" y="153.95" width="3.3" height="3.3" fill="#c9a9dc" fill-opacity="0.7" stroke="#5a2a7c" stroke-width="0.9"/>
<rect x="135.55" y="158.65" width="3.3" height="3.3" fill="#c9a9dc" fill-opacity="0.7" stroke="#5a2a7c" stroke-width="0.9"/>
<rect x="137.55" y="156.26" width="3.3" height="3.3" fill="#c9a9dc" fill-opacity="0.7" stroke="#5a2a7c" stroke-width="0.9"/>
<rect x="139.55" y="151.25" width="3.3" height="3.3" fill="#c9a9dc" fill-opacity="0.7" stroke="#5a2a7c" stroke-width="0.9"/>
<rect x="141.6" y="153.1" width="3.3" height="3.3" fill="#c9a9dc" fill-opacity="0.7" stroke="#5a2a7c" stroke-width="0.9"/>
<rect x="143.65" y="157.95" width="3.3" height="3.3" fill="#c9a9dc" fill-opacity="0.7" stroke="#5a2a7c" stroke-width="0.9"/>
<rect x="146.95" y="156.65" width="3.3" height="3.3" fill="#c9a9dc" fill-opacity="0.7" stroke="#5a2a7c" stroke-width="0.9"/>
<rect x="149.8" y="155.64" width="3.3" height="3.3" fill="#c9a9dc" fill-opacity="0.7" stroke="#5a2a7c" stroke-width="0.9"/>
<rect x="152.65" y="156.85" width="3.3" height="3.3" fill="#c9a9dc" fill-opacity="0.7" stroke="#5a2a7c" stroke-width="0.9"/>
<rect x="155.75" y="158.35" width="3.3" height="3.3" fill="#c9a9dc" fill-opacity="0.7" stroke="#5a2a7c" stroke-width="0.9"/>
<rect x="163.35" y="160.35" width="3.3" height="3.3" fill="#c9a9dc" fill-opacity="0.7" stroke="#5a2a7c" stroke-width="0.9"/>
<rect x="171.35" y="159.85" width="3.3" height="3.3" fill="#c9a9dc" fill-opacity="0.7" stroke="#5a2a7c" stroke-width="0.9"/>
<rect x="177.55" y="158.65" width="3.3" height="3.3" fill="#c9a9dc" fill-opacity="0.7" stroke="#5a2a7c" stroke-width="0.9"/>
<rect x="183.75" y="162.95" width="3.3" height="3.3" fill="#c9a9dc" fill-opacity="0.7" stroke="#5a2a7c" stroke-width="0.9"/>
<rect x="189.85" y="164.35" width="3.3" height="3.3" fill="#c9a9dc" fill-opacity="0.7" stroke="#5a2a7c" stroke-width="0.9"/>
<rect x="198.35" y="166.35" width="3.3" height="3.3" fill="#c9a9dc" fill-opacity="0.7" stroke="#5a2a7c" stroke-width="0.9"/>
<rect x="226.55" y="168.85" width="3.3" height="3.3" fill="#c9a9dc" fill-opacity="0.7" stroke="#5a2a7c" stroke-width="0.9"/>
<rect x="238.85" y="168.85" width="3.3" height="3.3" fill="#c9a9dc" fill-opacity="0.7" stroke="#5a2a7c" stroke-width="0.9"/>
<rect x="291.15" y="168.85" width="3.3" height="3.3" fill="#c9a9dc" fill-opacity="0.7" stroke="#5a2a7c" stroke-width="0.9"/>
<polyline points="87,167 89,155 90.5,163 92,140 93.5,152 95,120 96.5,135 98,115 99.5,128 101,110 102.5,125 104,105 106,118 108,108 110,120 112,115 114,126 117,128 120,126" fill="none" stroke="#4b1d5e" stroke-width="0.9" stroke-linejoin="round"/>
<polygon points="87,164.92 87.55,166.24 88.98,166.36 87.89,167.29 88.22,168.68 87,167.94 85.78,168.68 86.11,167.29 85.02,166.36 86.45,166.24" fill="#4b1d5e"/>
<polygon points="89,152.92 89.55,154.24 90.98,154.36 89.89,155.29 90.22,156.68 89,155.94 87.78,156.68 88.11,155.29 87.02,154.36 88.45,154.24" fill="#4b1d5e"/>
<polygon points="90.5,160.92 91.05,162.24 92.48,162.36 91.39,163.29 91.72,164.68 90.5,163.94 89.28,164.68 89.61,163.29 88.52,162.36 89.95,162.24" fill="#4b1d5e"/>
<polygon points="92,137.92 92.55,139.24 93.98,139.36 92.89,140.29 93.22,141.68 92,140.94 90.78,141.68 91.11,140.29 90.02,139.36 91.45,139.24" fill="#4b1d5e"/>
<polygon points="93.5,149.92 94.05,151.24 95.48,151.36 94.39,152.29 94.72,153.68 93.5,152.94 92.28,153.68 92.61,152.29 91.52,151.36 92.95,151.24" fill="#4b1d5e"/>
<polygon points="95,117.92 95.55,119.24 96.98,119.36 95.89,120.29 96.22,121.68 95,120.94 93.78,121.68 94.11,120.29 93.02,119.36 94.45,119.24" fill="#4b1d5e"/>
<polygon points="96.5,132.92 97.05,134.24 98.48,134.36 97.39,135.29 97.72,136.68 96.5,135.94 95.28,136.68 95.61,135.29 94.52,134.36 95.95,134.24" fill="#4b1d5e"/>
<polygon points="98,112.92 98.55,114.24 99.98,114.36 98.89,115.29 99.22,116.68 98,115.94 96.78,116.68 97.11,115.29 96.02,114.36 97.45,114.24" fill="#4b1d5e"/>
<polygon points="99.5,125.92 100.05,127.24 101.48,127.36 100.39,128.29 100.72,129.68 99.5,128.94 98.28,129.68 98.61,128.29 97.52,127.36 98.95,127.24" fill="#4b1d5e"/>
<polygon points="101,107.92 101.55,109.24 102.98,109.36 101.89,110.29 102.22,111.68 101,110.94 99.78,111.68 100.11,110.29 99.02,109.36 100.45,109.24" fill="#4b1d5e"/>
<polygon points="102.5,122.92 103.05,124.24 104.48,124.36 103.39,125.29 103.72,126.68 102.5,125.94 101.28,126.68 101.61,125.29 100.52,124.36 101.95,124.24" fill="#4b1d5e"/>
<polygon points="104,102.92 104.55,104.24 105.98,104.36 104.89,105.29 105.22,106.68 104,105.94 102.78,106.68 103.11,105.29 102.02,104.36 103.45,104.24" fill="#4b1d5e"/>
<polygon points="106,115.92 106.55,117.24 107.98,117.36 106.89,118.29 107.22,119.68 106,118.94 104.78,119.68 105.11,118.29 104.02,117.36 105.45,117.24" fill="#4b1d5e"/>
<polygon points="108,105.92 108.55,107.24 109.98,107.36 108.89,108.29 109.22,109.68 108,108.94 106.78,109.68 107.11,108.29 106.02,107.36 107.45,107.24" fill="#4b1d5e"/>
<polygon points="110,117.92 110.55,119.24 111.98,119.36 110.89,120.29 111.22,121.68 110,120.94 108.78,121.68 109.11,120.29 108.02,119.36 109.45,119.24" fill="#4b1d5e"/>
<polygon points="112,112.92 112.55,114.24 113.98,114.36 112.89,115.29 113.22,116.68 112,115.94 110.78,116.68 111.11,115.29 110.02,114.36 111.45,114.24" fill="#4b1d5e"/>
<polygon points="114,123.92 114.55,125.24 115.98,125.36 114.89,126.29 115.22,127.68 114,126.94 112.78,127.68 113.11,126.29 112.02,125.36 113.45,125.24" fill="#4b1d5e"/>
<polygon points="117,125.92 117.55,127.24 118.98,127.36 117.89,128.29 118.22,129.68 117,128.94 115.78,129.68 116.11,128.29 115.02,127.36 116.45,127.24" fill="#4b1d5e"/>
<polygon points="120,123.92 120.55,125.24 121.98,125.36 120.89,126.29 121.22,127.68 120,126.94 118.78,127.68 119.11,126.29 118.02,125.36 119.45,125.24" fill="#4b1d5e"/>
<polyline points="87,167 88.5,160 90,165 91.5,152 93,160 94.5,146 96,155 97.5,140 99,150 100.5,136 102,146 103.5,132 105,142 106.5,136 108,146 109.5,140 111,148 113,143 115,150 117,146 119,152" fill="none" stroke="#3f1752" stroke-width="0.9" stroke-linejoin="round"/>
<circle cx="87" cy="167" r="1.17" fill="#3f1752"/>
<circle cx="88.5" cy="160" r="1.17" fill="#3f1752"/>
<circle cx="90" cy="165" r="1.17" fill="#3f1752"/>
<circle cx="91.5" cy="152" r="1.17" fill="#3f1752"/>
<circle cx="93" cy="160" r="1.17" fill="#3f1752"/>
<circle cx="94.5" cy="146" r="1.17" fill="#3f1752"/>
<circle cx="96" cy="155" r="1.17" fill="#3f1752"/>
<circle cx="97.5" cy="140" r="1.17" fill="#3f1752"/>
<circle cx="99" cy="150" r="1.17" fill="#3f1752"/>
<circle cx="100.5" cy="136" r="1.17" fill="#3f1752"/>
<circle cx="102" cy="146" r="1.17" fill="#3f1752"/>
<circle cx="103.5" cy="132" r="1.17" fill="#3f1752"/>
<circle cx="105" cy="142" r="1.17" fill="#3f1752"/>
<circle cx="106.5" cy="136" r="1.17" fill="#3f1752"/>
<circle cx="108" cy="146" r="1.17" fill="#3f1752"/>
<circle cx="109.5" cy="140" r="1.17" fill="#3f1752"/>
<circle cx="111" cy="148" r="1.17" fill="#3f1752"/>
<circle cx="113" cy="143" r="1.17" fill="#3f1752"/>
<circle cx="115" cy="150" r="1.17" fill="#3f1752"/>
<circle cx="117" cy="146" r="1.17" fill="#3f1752"/>
<circle cx="119" cy="152" r="1.17" fill="#3f1752"/>
<polyline points="85.4,136 86.9,166 88.5,158 90,165 91.5,145 93,160 94.5,135 96,150 97.5,128 99,142 101,130 103,125 105,130 107,135 109,128 111,134 112.8,136.2 114.5,138 116.9,134.7 119,133.1 121.2,119.9 123.3,108.3 125.4,131 127,117.8 129.1,114.1 130.7,118.9 132.8,128.4 134.9,134.7 137.4,130.8 141.2,130 142.8,133.8 150,134.6 156.9,140 164.6,139.7 172.8,139.2 180.8,146.9 182.3,146.5 188.5,148 194.6,153.5 196.2,158.5 202.3,161.5 210.8,161.5 226.9,150.5 256.5,159.5 264.2,157.3 274.4,158.8 292.8,163.5" fill="none" stroke="#3f1752" stroke-width="0.9" stroke-linejoin="round"/>
<circle cx="85.4" cy="136" r="1.3" fill="#3f1752"/>
<circle cx="86.9" cy="166" r="1.3" fill="#3f1752"/>
<circle cx="88.5" cy="158" r="1.3" fill="#3f1752"/>
<circle cx="90" cy="165" r="1.3" fill="#3f1752"/>
<circle cx="91.5" cy="145" r="1.3" fill="#3f1752"/>
<circle cx="93" cy="160" r="1.3" fill="#3f1752"/>
<circle cx="94.5" cy="135" r="1.3" fill="#3f1752"/>
<circle cx="96" cy="150" r="1.3" fill="#3f1752"/>
<circle cx="97.5" cy="128" r="1.3" fill="#3f1752"/>
<circle cx="99" cy="142" r="1.3" fill="#3f1752"/>
<circle cx="101" cy="130" r="1.3" fill="#3f1752"/>
<circle cx="103" cy="125" r="1.3" fill="#3f1752"/>
<circle cx="105" cy="130" r="1.3" fill="#3f1752"/>
<circle cx="107" cy="135" r="1.3" fill="#3f1752"/>
<circle cx="109" cy="128" r="1.3" fill="#3f1752"/>
<circle cx="111" cy="134" r="1.3" fill="#3f1752"/>
<circle cx="112.8" cy="136.2" r="1.3" fill="#3f1752"/>
<circle cx="114.5" cy="138" r="1.3" fill="#3f1752"/>
<circle cx="116.9" cy="134.7" r="1.3" fill="#3f1752"/>
<circle cx="119" cy="133.1" r="1.3" fill="#3f1752"/>
<circle cx="121.2" cy="119.9" r="1.3" fill="#3f1752"/>
<circle cx="123.3" cy="108.3" r="1.3" fill="#3f1752"/>
<circle cx="125.4" cy="131" r="1.3" fill="#3f1752"/>
<circle cx="127" cy="117.8" r="1.3" fill="#3f1752"/>
<circle cx="129.1" cy="114.1" r="1.3" fill="#3f1752"/>
<circle cx="130.7" cy="118.9" r="1.3" fill="#3f1752"/>
<circle cx="132.8" cy="128.4" r="1.3" fill="#3f1752"/>
<circle cx="134.9" cy="134.7" r="1.3" fill="#3f1752"/>
<circle cx="137.4" cy="130.8" r="1.3" fill="#3f1752"/>
<circle cx="141.2" cy="130" r="1.3" fill="#3f1752"/>
<circle cx="142.8" cy="133.8" r="1.3" fill="#3f1752"/>
<circle cx="150" cy="134.6" r="1.3" fill="#3f1752"/>
<circle cx="156.9" cy="140" r="1.3" fill="#3f1752"/>
<circle cx="164.6" cy="139.7" r="1.3" fill="#3f1752"/>
<circle cx="172.8" cy="139.2" r="1.3" fill="#3f1752"/>
<circle cx="180.8" cy="146.9" r="1.3" fill="#3f1752"/>
<circle cx="182.3" cy="146.5" r="1.3" fill="#3f1752"/>
<circle cx="188.5" cy="148" r="1.3" fill="#3f1752"/>
<circle cx="194.6" cy="153.5" r="1.3" fill="#3f1752"/>
<circle cx="196.2" cy="158.5" r="1.3" fill="#3f1752"/>
<circle cx="202.3" cy="161.5" r="1.3" fill="#3f1752"/>
<circle cx="210.8" cy="161.5" r="1.3" fill="#3f1752"/>
<circle cx="226.9" cy="150.5" r="1.3" fill="#3f1752"/>
<circle cx="256.5" cy="159.5" r="1.3" fill="#3f1752"/>
<circle cx="264.2" cy="157.3" r="1.3" fill="#3f1752"/>
<circle cx="274.4" cy="158.8" r="1.3" fill="#3f1752"/>
<circle cx="292.8" cy="163.5" r="1.3" fill="#3f1752"/>
<polyline points="86,168 88,163 90,162 92,148 94,128 96.6,119.7 98.3,127.8 100.7,118.9 102.5,125 104,112 106,118 107.1,100.4 109.3,104 111,96 113.7,91.7 115.5,98 117,85.7 118,98.2 120.8,99.3 122.4,88 123.5,100.4 125.3,67.8 127,92 129,104.8 131,84 132.9,83.8 135,96 137,90 141.2,81.8 149.2,101.3 157.3,89.8 165,102 172.4,125 181,118.6 188,110 195,103.5 206.7,100.4 219,94.2 292.8,123.5 344.8,95.8" fill="none" stroke="#4b1d5e" stroke-width="0.9" stroke-linejoin="round"/>
<circle cx="86" cy="168" r="1.17" fill="#4b1d5e"/>
<circle cx="88" cy="163" r="1.17" fill="#4b1d5e"/>
<circle cx="90" cy="162" r="1.17" fill="#4b1d5e"/>
<circle cx="92" cy="148" r="1.17" fill="#4b1d5e"/>
<circle cx="94" cy="128" r="1.17" fill="#4b1d5e"/>
<circle cx="96.6" cy="119.7" r="1.17" fill="#4b1d5e"/>
<circle cx="98.3" cy="127.8" r="1.17" fill="#4b1d5e"/>
<circle cx="100.7" cy="118.9" r="1.17" fill="#4b1d5e"/>
<circle cx="102.5" cy="125" r="1.17" fill="#4b1d5e"/>
<circle cx="104" cy="112" r="1.17" fill="#4b1d5e"/>
<circle cx="106" cy="118" r="1.17" fill="#4b1d5e"/>
<circle cx="107.1" cy="100.4" r="1.17" fill="#4b1d5e"/>
<circle cx="109.3" cy="104" r="1.17" fill="#4b1d5e"/>
<circle cx="111" cy="96" r="1.17" fill="#4b1d5e"/>
<circle cx="113.7" cy="91.7" r="1.17" fill="#4b1d5e"/>
<circle cx="115.5" cy="98" r="1.17" fill="#4b1d5e"/>
<circle cx="117" cy="85.7" r="1.17" fill="#4b1d5e"/>
<circle cx="118" cy="98.2" r="1.17" fill="#4b1d5e"/>
<circle cx="120.8" cy="99.3" r="1.17" fill="#4b1d5e"/>
<circle cx="122.4" cy="88" r="1.17" fill="#4b1d5e"/>
<circle cx="123.5" cy="100.4" r="1.17" fill="#4b1d5e"/>
<circle cx="125.3" cy="67.8" r="1.17" fill="#4b1d5e"/>
<circle cx="127" cy="92" r="1.17" fill="#4b1d5e"/>
<circle cx="129" cy="104.8" r="1.17" fill="#4b1d5e"/>
<circle cx="131" cy="84" r="1.17" fill="#4b1d5e"/>
<circle cx="132.9" cy="83.8" r="1.17" fill="#4b1d5e"/>
<circle cx="135" cy="96" r="1.17" fill="#4b1d5e"/>
<circle cx="137" cy="90" r="1.17" fill="#4b1d5e"/>
<circle cx="141.2" cy="81.8" r="1.17" fill="#4b1d5e"/>
<circle cx="149.2" cy="101.3" r="1.17" fill="#4b1d5e"/>
<circle cx="157.3" cy="89.8" r="1.17" fill="#4b1d5e"/>
<circle cx="165" cy="102" r="1.17" fill="#4b1d5e"/>
<circle cx="172.4" cy="125" r="1.17" fill="#4b1d5e"/>
<circle cx="181" cy="118.6" r="1.17" fill="#4b1d5e"/>
<circle cx="188" cy="110" r="1.17" fill="#4b1d5e"/>
<circle cx="195" cy="103.5" r="1.17" fill="#4b1d5e"/>
<circle cx="206.7" cy="100.4" r="1.17" fill="#4b1d5e"/>
<circle cx="219" cy="94.2" r="1.17" fill="#4b1d5e"/>
<circle cx="292.8" cy="123.5" r="1.17" fill="#4b1d5e"/>
<circle cx="344.8" cy="95.8" r="1.17" fill="#4b1d5e"/>
<polyline points="86.5,167 88.5,161 90.5,160 92.5,142 95,107.5 97,112 99.1,108.3 101,116 103.3,94.1 105,104 106.4,101 108.5,103 110.9,91.7 112.5,88 114.8,74.2 117,75.8 119.7,78.6 122.4,82.9 125.7,58.2 127.5,80 129,100 131,92 133.5,83.6 135,95 138,88 141,60 149.2,70.5 157.3,89.8 165,79.2 173,72.5 180.8,80.2 188.7,45.5 198.7,85.5 204.8,55.7 206.3,64.4 206.3,101.3 208.5,104 211.9,112.7 214.1,119.5 216.5,117.3 218,131.2 241.2,139.8 248.8,144.1 292.8,152.1 344.2,161.9" fill="none" stroke="#4b1d5e" stroke-width="0.9" stroke-linejoin="round"/>
<polygon points="86.5,164.4 87.19,166.05 88.97,166.2 87.61,167.36 88.03,169.1 86.5,168.17 84.97,169.1 85.39,167.36 84.03,166.2 85.81,166.05" fill="#4b1d5e"/>
<polygon points="88.5,158.4 89.19,160.05 90.97,160.2 89.61,161.36 90.03,163.1 88.5,162.17 86.97,163.1 87.39,161.36 86.03,160.2 87.81,160.05" fill="#4b1d5e"/>
<polygon points="90.5,157.4 91.19,159.05 92.97,159.2 91.61,160.36 92.03,162.1 90.5,161.17 88.97,162.1 89.39,160.36 88.03,159.2 89.81,159.05" fill="#4b1d5e"/>
<polygon points="92.5,139.4 93.19,141.05 94.97,141.2 93.61,142.36 94.03,144.1 92.5,143.17 90.97,144.1 91.39,142.36 90.03,141.2 91.81,141.05" fill="#4b1d5e"/>
<polygon points="95,104.9 95.69,106.55 97.47,106.7 96.11,107.86 96.53,109.6 95,108.67 93.47,109.6 93.89,107.86 92.53,106.7 94.31,106.55" fill="#4b1d5e"/>
<polygon points="97,109.4 97.69,111.05 99.47,111.2 98.11,112.36 98.53,114.1 97,113.17 95.47,114.1 95.89,112.36 94.53,111.2 96.31,111.05" fill="#4b1d5e"/>
<polygon points="99.1,105.7 99.79,107.35 101.57,107.5 100.21,108.66 100.63,110.4 99.1,109.47 97.57,110.4 97.99,108.66 96.63,107.5 98.41,107.35" fill="#4b1d5e"/>
<polygon points="101,113.4 101.69,115.05 103.47,115.2 102.11,116.36 102.53,118.1 101,117.17 99.47,118.1 99.89,116.36 98.53,115.2 100.31,115.05" fill="#4b1d5e"/>
<polygon points="103.3,91.5 103.99,93.15 105.77,93.3 104.41,94.46 104.83,96.2 103.3,95.27 101.77,96.2 102.19,94.46 100.83,93.3 102.61,93.15" fill="#4b1d5e"/>
<polygon points="105,101.4 105.69,103.05 107.47,103.2 106.11,104.36 106.53,106.1 105,105.17 103.47,106.1 103.89,104.36 102.53,103.2 104.31,103.05" fill="#4b1d5e"/>
<polygon points="106.4,98.4 107.09,100.05 108.87,100.2 107.51,101.36 107.93,103.1 106.4,102.17 104.87,103.1 105.29,101.36 103.93,100.2 105.71,100.05" fill="#4b1d5e"/>
<polygon points="108.5,100.4 109.19,102.05 110.97,102.2 109.61,103.36 110.03,105.1 108.5,104.17 106.97,105.1 107.39,103.36 106.03,102.2 107.81,102.05" fill="#4b1d5e"/>
<polygon points="110.9,89.1 111.59,90.75 113.37,90.9 112.01,92.06 112.43,93.8 110.9,92.87 109.37,93.8 109.79,92.06 108.43,90.9 110.21,90.75" fill="#4b1d5e"/>
<polygon points="112.5,85.4 113.19,87.05 114.97,87.2 113.61,88.36 114.03,90.1 112.5,89.17 110.97,90.1 111.39,88.36 110.03,87.2 111.81,87.05" fill="#4b1d5e"/>
<polygon points="114.8,71.6 115.49,73.25 117.27,73.4 115.91,74.56 116.33,76.3 114.8,75.37 113.27,76.3 113.69,74.56 112.33,73.4 114.11,73.25" fill="#4b1d5e"/>
<polygon points="117,73.2 117.69,74.85 119.47,75 118.11,76.16 118.53,77.9 117,76.97 115.47,77.9 115.89,76.16 114.53,75 116.31,74.85" fill="#4b1d5e"/>
<polygon points="119.7,76 120.39,77.65 122.17,77.8 120.81,78.96 121.23,80.7 119.7,79.77 118.17,80.7 118.59,78.96 117.23,77.8 119.01,77.65" fill="#4b1d5e"/>
<polygon points="122.4,80.3 123.09,81.95 124.87,82.1 123.51,83.26 123.93,85 122.4,84.07 120.87,85 121.29,83.26 119.93,82.1 121.71,81.95" fill="#4b1d5e"/>
<polygon points="125.7,55.6 126.39,57.25 128.17,57.4 126.81,58.56 127.23,60.3 125.7,59.37 124.17,60.3 124.59,58.56 123.23,57.4 125.01,57.25" fill="#4b1d5e"/>
<polygon points="127.5,77.4 128.19,79.05 129.97,79.2 128.61,80.36 129.03,82.1 127.5,81.17 125.97,82.1 126.39,80.36 125.03,79.2 126.81,79.05" fill="#4b1d5e"/>
<polygon points="129,97.4 129.69,99.05 131.47,99.2 130.11,100.36 130.53,102.1 129,101.17 127.47,102.1 127.89,100.36 126.53,99.2 128.31,99.05" fill="#4b1d5e"/>
<polygon points="131,89.4 131.69,91.05 133.47,91.2 132.11,92.36 132.53,94.1 131,93.17 129.47,94.1 129.89,92.36 128.53,91.2 130.31,91.05" fill="#4b1d5e"/>
<polygon points="133.5,81 134.19,82.65 135.97,82.8 134.61,83.96 135.03,85.7 133.5,84.77 131.97,85.7 132.39,83.96 131.03,82.8 132.81,82.65" fill="#4b1d5e"/>
<polygon points="135,92.4 135.69,94.05 137.47,94.2 136.11,95.36 136.53,97.1 135,96.17 133.47,97.1 133.89,95.36 132.53,94.2 134.31,94.05" fill="#4b1d5e"/>
<polygon points="138,85.4 138.69,87.05 140.47,87.2 139.11,88.36 139.53,90.1 138,89.17 136.47,90.1 136.89,88.36 135.53,87.2 137.31,87.05" fill="#4b1d5e"/>
<polygon points="141,57.4 141.69,59.05 143.47,59.2 142.11,60.36 142.53,62.1 141,61.17 139.47,62.1 139.89,60.36 138.53,59.2 140.31,59.05" fill="#4b1d5e"/>
<polygon points="149.2,67.9 149.89,69.55 151.67,69.7 150.31,70.86 150.73,72.6 149.2,71.67 147.67,72.6 148.09,70.86 146.73,69.7 148.51,69.55" fill="#4b1d5e"/>
<polygon points="157.3,87.2 157.99,88.85 159.77,89 158.41,90.16 158.83,91.9 157.3,90.97 155.77,91.9 156.19,90.16 154.83,89 156.61,88.85" fill="#4b1d5e"/>
<polygon points="165,76.6 165.69,78.25 167.47,78.4 166.11,79.56 166.53,81.3 165,80.37 163.47,81.3 163.89,79.56 162.53,78.4 164.31,78.25" fill="#4b1d5e"/>
<polygon points="173,69.9 173.69,71.55 175.47,71.7 174.11,72.86 174.53,74.6 173,73.67 171.47,74.6 171.89,72.86 170.53,71.7 172.31,71.55" fill="#4b1d5e"/>
<polygon points="180.8,77.6 181.49,79.25 183.27,79.4 181.91,80.56 182.33,82.3 180.8,81.37 179.27,82.3 179.69,80.56 178.33,79.4 180.11,79.25" fill="#4b1d5e"/>
<polygon points="188.7,42.9 189.39,44.55 191.17,44.7 189.81,45.86 190.23,47.6 188.7,46.67 187.17,47.6 187.59,45.86 186.23,44.7 188.01,44.55" fill="#4b1d5e"/>
<polygon points="198.7,82.9 199.39,84.55 201.17,84.7 199.81,85.86 200.23,87.6 198.7,86.67 197.17,87.6 197.59,85.86 196.23,84.7 198.01,84.55" fill="#4b1d5e"/>
<polygon points="204.8,53.1 205.49,54.75 207.27,54.9 205.91,56.06 206.33,57.8 204.8,56.87 203.27,57.8 203.69,56.06 202.33,54.9 204.11,54.75" fill="#4b1d5e"/>
<polygon points="206.3,61.8 206.99,63.45 208.77,63.6 207.41,64.76 207.83,66.5 206.3,65.57 204.77,66.5 205.19,64.76 203.83,63.6 205.61,63.45" fill="#4b1d5e"/>
<polygon points="206.3,98.7 206.99,100.35 208.77,100.5 207.41,101.66 207.83,103.4 206.3,102.47 204.77,103.4 205.19,101.66 203.83,100.5 205.61,100.35" fill="#4b1d5e"/>
<polygon points="208.5,101.4 209.19,103.05 210.97,103.2 209.61,104.36 210.03,106.1 208.5,105.17 206.97,106.1 207.39,104.36 206.03,103.2 207.81,103.05" fill="#4b1d5e"/>
<polygon points="211.9,110.1 212.59,111.75 214.37,111.9 213.01,113.06 213.43,114.8 211.9,113.87 210.37,114.8 210.79,113.06 209.43,111.9 211.21,111.75" fill="#4b1d5e"/>
<polygon points="214.1,116.9 214.79,118.55 216.57,118.7 215.21,119.86 215.63,121.6 214.1,120.67 212.57,121.6 212.99,119.86 211.63,118.7 213.41,118.55" fill="#4b1d5e"/>
<polygon points="216.5,114.7 217.19,116.35 218.97,116.5 217.61,117.66 218.03,119.4 216.5,118.47 214.97,119.4 215.39,117.66 214.03,116.5 215.81,116.35" fill="#4b1d5e"/>
<polygon points="218,128.6 218.69,130.25 220.47,130.4 219.11,131.56 219.53,133.3 218,132.37 216.47,133.3 216.89,131.56 215.53,130.4 217.31,130.25" fill="#4b1d5e"/>
<polygon points="241.2,137.2 241.89,138.85 243.67,139 242.31,140.16 242.73,141.9 241.2,140.97 239.67,141.9 240.09,140.16 238.73,139 240.51,138.85" fill="#4b1d5e"/>
<polygon points="248.8,141.5 249.49,143.15 251.27,143.3 249.91,144.46 250.33,146.2 248.8,145.27 247.27,146.2 247.69,144.46 246.33,143.3 248.11,143.15" fill="#4b1d5e"/>
<polygon points="292.8,149.5 293.49,151.15 295.27,151.3 293.91,152.46 294.33,154.2 292.8,153.27 291.27,154.2 291.69,152.46 290.33,151.3 292.11,151.15" fill="#4b1d5e"/>
<polygon points="344.2,159.3 344.89,160.95 346.67,161.1 345.31,162.26 345.73,164 344.2,163.07 342.67,164 343.09,162.26 341.73,161.1 343.51,160.95" fill="#4b1d5e"/>
<polyline points="83,440.6 240,440.6" fill="none" stroke="#f4e3a6" stroke-width="1.4" stroke-linejoin="round"/>
<polyline points="86,439.4 112,439.4" fill="none" stroke="#ef9a36" stroke-width="2.2" stroke-linejoin="round"/>
<polyline points="88,436 95,434 100,432.5 104,432 108,433 112,435" fill="none" stroke="#72c272" stroke-width="1.2" stroke-linejoin="round"/>
<circle cx="88" cy="436" r="1.26" fill="#72c272" fill-opacity="0.35" stroke="#72c272" stroke-width="0.8"/>
<circle cx="95" cy="434" r="1.26" fill="#72c272" fill-opacity="0.35" stroke="#72c272" stroke-width="0.8"/>
<circle cx="100" cy="432.5" r="1.26" fill="#72c272" fill-opacity="0.35" stroke="#72c272" stroke-width="0.8"/>
<circle cx="104" cy="432" r="1.26" fill="#72c272" fill-opacity="0.35" stroke="#72c272" stroke-width="0.8"/>
<circle cx="108" cy="433" r="1.26" fill="#72c272" fill-opacity="0.35" stroke="#72c272" stroke-width="0.8"/>
<circle cx="112" cy="435" r="1.26" fill="#72c272" fill-opacity="0.35" stroke="#72c272" stroke-width="0.8"/>
<polyline points="86,438.6 95,438.3 105,438.5 115,438.6" fill="none" stroke="#45a84e" stroke-width="1.2" stroke-linejoin="round"/>
<circle cx="86" cy="438.6" r="0.9" fill="#45a84e"/>
<circle cx="95" cy="438.3" r="0.9" fill="#45a84e"/>
<circle cx="105" cy="438.5" r="0.9" fill="#45a84e"/>
<circle cx="115" cy="438.6" r="0.9" fill="#45a84e"/>
<polyline points="86,439.5 95,438 102,435.5 106,434.5 110,435.5 115,437 125,438 140,438.5 160,439 200,439" fill="none" stroke="#f4aa50" stroke-width="1.2" stroke-linejoin="round"/>
<circle cx="86" cy="439.5" r="0.9" fill="#f4aa50"/>
<circle cx="95" cy="438" r="0.9" fill="#f4aa50"/>
<circle cx="102" cy="435.5" r="0.9" fill="#f4aa50"/>
<circle cx="106" cy="434.5" r="0.9" fill="#f4aa50"/>
<circle cx="110" cy="435.5" r="0.9" fill="#f4aa50"/>
<circle cx="115" cy="437" r="0.9" fill="#f4aa50"/>
<circle cx="125" cy="438" r="0.9" fill="#f4aa50"/>
<circle cx="140" cy="438.5" r="0.9" fill="#f4aa50"/>
<circle cx="160" cy="439" r="0.9" fill="#f4aa50"/>
<circle cx="200" cy="439" r="0.9" fill="#f4aa50"/>
<polyline points="86,439.2 92,439.2 98,439.2 104,439.2 110,439.2 116,439.2 122,439.2 127.7,439 134,439 140.8,439 148.5,439 157,439 164.6,439 173,439 188.5,439 195,438.5 230,436 260,433 292.8,429.8 344,433.5 394.7,437 446.7,433.3 448.5,438.5" fill="none" stroke="#ef9a36" stroke-width="1.2" stroke-linejoin="round"/>
<circle cx="86" cy="439.2" r="1.4" fill="#ef9a36" fill-opacity="0.35" stroke="#ef9a36" stroke-width="0.8"/>
<circle cx="92" cy="439.2" r="1.4" fill="#ef9a36" fill-opacity="0.35" stroke="#ef9a36" stroke-width="0.8"/>
<circle cx="98" cy="439.2" r="1.4" fill="#ef9a36" fill-opacity="0.35" stroke="#ef9a36" stroke-width="0.8"/>
<circle cx="104" cy="439.2" r="1.4" fill="#ef9a36" fill-opacity="0.35" stroke="#ef9a36" stroke-width="0.8"/>
<circle cx="110" cy="439.2" r="1.4" fill="#ef9a36" fill-opacity="0.35" stroke="#ef9a36" stroke-width="0.8"/>
<circle cx="116" cy="439.2" r="1.4" fill="#ef9a36" fill-opacity="0.35" stroke="#ef9a36" stroke-width="0.8"/>
<circle cx="122" cy="439.2" r="1.4" fill="#ef9a36" fill-opacity="0.35" stroke="#ef9a36" stroke-width="0.8"/>
<circle cx="127.7" cy="439" r="1.4" fill="#ef9a36" fill-opacity="0.35" stroke="#ef9a36" stroke-width="0.8"/>
<circle cx="134" cy="439" r="1.4" fill="#ef9a36" fill-opacity="0.35" stroke="#ef9a36" stroke-width="0.8"/>
<circle cx="140.8" cy="439" r="1.4" fill="#ef9a36" fill-opacity="0.35" stroke="#ef9a36" stroke-width="0.8"/>
<circle cx="148.5" cy="439" r="1.4" fill="#ef9a36" fill-opacity="0.35" stroke="#ef9a36" stroke-width="0.8"/>
<circle cx="157" cy="439" r="1.4" fill="#ef9a36" fill-opacity="0.35" stroke="#ef9a36" stroke-width="0.8"/>
<circle cx="164.6" cy="439" r="1.4" fill="#ef9a36" fill-opacity="0.35" stroke="#ef9a36" stroke-width="0.8"/>
<circle cx="173" cy="439" r="1.4" fill="#ef9a36" fill-opacity="0.35" stroke="#ef9a36" stroke-width="0.8"/>
<circle cx="188.5" cy="439" r="1.4" fill="#ef9a36" fill-opacity="0.35" stroke="#ef9a36" stroke-width="0.8"/>
<circle cx="195" cy="438.5" r="1.4" fill="#ef9a36" fill-opacity="0.35" stroke="#ef9a36" stroke-width="0.8"/>
<circle cx="230" cy="436" r="1.4" fill="#ef9a36" fill-opacity="0.35" stroke="#ef9a36" stroke-width="0.8"/>
<circle cx="260" cy="433" r="1.4" fill="#ef9a36" fill-opacity="0.35" stroke="#ef9a36" stroke-width="0.8"/>
<circle cx="292.8" cy="429.8" r="1.4" fill="#ef9a36" fill-opacity="0.35" stroke="#ef9a36" stroke-width="0.8"/>
<circle cx="344" cy="433.5" r="1.4" fill="#ef9a36" fill-opacity="0.35" stroke="#ef9a36" stroke-width="0.8"/>
<circle cx="394.7" cy="437" r="1.4" fill="#ef9a36" fill-opacity="0.35" stroke="#ef9a36" stroke-width="0.8"/>
<circle cx="446.7" cy="433.3" r="1.4" fill="#ef9a36" fill-opacity="0.35" stroke="#ef9a36" stroke-width="0.8"/>
<circle cx="448.5" cy="438.5" r="1.4" fill="#ef9a36" fill-opacity="0.35" stroke="#ef9a36" stroke-width="0.8"/>
<polyline points="86,436 88,434.6 92,433.5 96,433 100,433.2 105,433.5 110,434.5 120,435 140,434 162,431.5 200,433 292.8,435 344,436" fill="none" stroke="#5cc0ea" stroke-width="1.5" stroke-linejoin="round"/>
<circle cx="86" cy="436" r="1.08" fill="#5cc0ea"/>
<circle cx="88" cy="434.6" r="1.08" fill="#5cc0ea"/>
<circle cx="92" cy="433.5" r="1.08" fill="#5cc0ea"/>
<circle cx="96" cy="433" r="1.08" fill="#5cc0ea"/>
<circle cx="100" cy="433.2" r="1.08" fill="#5cc0ea"/>
<circle cx="105" cy="433.5" r="1.08" fill="#5cc0ea"/>
<circle cx="110" cy="434.5" r="1.08" fill="#5cc0ea"/>
<circle cx="120" cy="435" r="1.08" fill="#5cc0ea"/>
<circle cx="140" cy="434" r="1.08" fill="#5cc0ea"/>
<circle cx="162" cy="431.5" r="1.08" fill="#5cc0ea"/>
<circle cx="200" cy="433" r="1.08" fill="#5cc0ea"/>
<circle cx="292.8" cy="435" r="1.08" fill="#5cc0ea"/>
<circle cx="344" cy="436" r="1.08" fill="#5cc0ea"/>
<polyline points="86.6,435.4 89,433 92,431.5 95.8,430.5 99,430 102,430 104.5,430.5 106.6,431.5 109.7,433.8 113,434.8 120,435.2 140,435 162,434.5 195,431 292.8,430.8 313.5,433.2 344.2,435.4 394.7,436.5" fill="none" stroke="#45b0e2" stroke-width="1.6" stroke-linejoin="round"/>
<circle cx="86.6" cy="435.4" r="1.08" fill="#45b0e2"/>
<circle cx="89" cy="433" r="1.08" fill="#45b0e2"/>
<circle cx="92" cy="431.5" r="1.08" fill="#45b0e2"/>
<circle cx="95.8" cy="430.5" r="1.08" fill="#45b0e2"/>
<circle cx="99" cy="430" r="1.08" fill="#45b0e2"/>
<circle cx="102" cy="430" r="1.08" fill="#45b0e2"/>
<circle cx="104.5" cy="430.5" r="1.08" fill="#45b0e2"/>
<circle cx="106.6" cy="431.5" r="1.08" fill="#45b0e2"/>
<circle cx="109.7" cy="433.8" r="1.08" fill="#45b0e2"/>
<circle cx="113" cy="434.8" r="1.08" fill="#45b0e2"/>
<circle cx="120" cy="435.2" r="1.08" fill="#45b0e2"/>
<circle cx="140" cy="435" r="1.08" fill="#45b0e2"/>
<circle cx="162" cy="434.5" r="1.08" fill="#45b0e2"/>
<circle cx="195" cy="431" r="1.08" fill="#45b0e2"/>
<circle cx="292.8" cy="430.8" r="1.08" fill="#45b0e2"/>
<circle cx="313.5" cy="433.2" r="1.08" fill="#45b0e2"/>
<circle cx="344.2" cy="435.4" r="1.08" fill="#45b0e2"/>
<circle cx="394.7" cy="436.5" r="1.08" fill="#45b0e2"/>
<polyline points="87,436 89,425 90.5,432 92,412 93.5,426 95.5,392 97,410 98.5,388.9 100,404 101.5,396 103.5,408 105.5,398 107.5,410 110,414 113,416 116,419 119,421 122,423 124,424.01 126,424 128,426.29 130,425 132.5,425.81 135,426 137.5,425.84 140,426.5 142,428.51 144,424.89 146,428.23 148,426.06 150,427 152,425.48 154,425.27 156,425.93 158,427.86 160,426.5 175,426.5 185,426 195,426.2 292.8,430.8" fill="none" stroke="#5a2f7e" stroke-width="0.9" stroke-linejoin="round"/>
<polygon points="87,434 89,436 87,438 85,436" fill="#c9a9dc" fill-opacity="0.6" stroke="#5a2f7e" stroke-width="0.9"/>
<polygon points="89,423 91,425 89,427 87,425" fill="#c9a9dc" fill-opacity="0.6" stroke="#5a2f7e" stroke-width="0.9"/>
<polygon points="90.5,430 92.5,432 90.5,434 88.5,432" fill="#c9a9dc" fill-opacity="0.6" stroke="#5a2f7e" stroke-width="0.9"/>
<polygon points="92,410 94,412 92,414 90,412" fill="#c9a9dc" fill-opacity="0.6" stroke="#5a2f7e" stroke-width="0.9"/>
<polygon points="93.5,424 95.5,426 93.5,428 91.5,426" fill="#c9a9dc" fill-opacity="0.6" stroke="#5a2f7e" stroke-width="0.9"/>
<polygon points="95.5,390 97.5,392 95.5,394 93.5,392" fill="#c9a9dc" fill-opacity="0.6" stroke="#5a2f7e" stroke-width="0.9"/>
<polygon points="97,408 99,410 97,412 95,410" fill="#c9a9dc" fill-opacity="0.6" stroke="#5a2f7e" stroke-width="0.9"/>
<polygon points="98.5,386.9 100.5,388.9 98.5,390.9 96.5,388.9" fill="#c9a9dc" fill-opacity="0.6" stroke="#5a2f7e" stroke-width="0.9"/>
<polygon points="100,402 102,404 100,406 98,404" fill="#c9a9dc" fill-opacity="0.6" stroke="#5a2f7e" stroke-width="0.9"/>
<polygon points="101.5,394 103.5,396 101.5,398 99.5,396" fill="#c9a9dc" fill-opacity="0.6" stroke="#5a2f7e" stroke-width="0.9"/>
<polygon points="103.5,406 105.5,408 103.5,410 101.5,408" fill="#c9a9dc" fill-opacity="0.6" stroke="#5a2f7e" stroke-width="0.9"/>
<polygon points="105.5,396 107.5,398 105.5,400 103.5,398" fill="#c9a9dc" fill-opacity="0.6" stroke="#5a2f7e" stroke-width="0.9"/>
<polygon points="107.5,408 109.5,410 107.5,412 105.5,410" fill="#c9a9dc" fill-opacity="0.6" stroke="#5a2f7e" stroke-width="0.9"/>
<polygon points="110,412 112,414 110,416 108,414" fill="#c9a9dc" fill-opacity="0.6" stroke="#5a2f7e" stroke-width="0.9"/>
<polygon points="113,414 115,416 113,418 111,416" fill="#c9a9dc" fill-opacity="0.6" stroke="#5a2f7e" stroke-width="0.9"/>
<polygon points="116,417 118,419 116,421 114,419" fill="#c9a9dc" fill-opacity="0.6" stroke="#5a2f7e" stroke-width="0.9"/>
<polygon points="119,419 121,421 119,423 117,421" fill="#c9a9dc" fill-opacity="0.6" stroke="#5a2f7e" stroke-width="0.9"/>
<polygon points="122,421 124,423 122,425 120,423" fill="#c9a9dc" fill-opacity="0.6" stroke="#5a2f7e" stroke-width="0.9"/>
<polygon points="124,422.01 126,424.01 124,426.01 122,424.01" fill="#c9a9dc" fill-opacity="0.6" stroke="#5a2f7e" stroke-width="0.9"/>
<polygon points="126,422 128,424 126,426 124,424" fill="#c9a9dc" fill-opacity="0.6" stroke="#5a2f7e" stroke-width="0.9"/>
<polygon points="128,424.29 130,426.29 128,428.29 126,426.29" fill="#c9a9dc" fill-opacity="0.6" stroke="#5a2f7e" stroke-width="0.9"/>
<polygon points="130,423 132,425 130,427 128,425" fill="#c9a9dc" fill-opacity="0.6" stroke="#5a2f7e" stroke-width="0.9"/>
<polygon points="132.5,423.81 134.5,425.81 132.5,427.81 130.5,425.81" fill="#c9a9dc" fill-opacity="0.6" stroke="#5a2f7e" stroke-width="0.9"/>
<polygon points="135,424 137,426 135,428 133,426" fill="#c9a9dc" fill-opacity="0.6" stroke="#5a2f7e" stroke-width="0.9"/>
<polygon points="137.5,423.84 139.5,425.84 137.5,427.84 135.5,425.84" fill="#c9a9dc" fill-opacity="0.6" stroke="#5a2f7e" stroke-width="0.9"/>
<polygon points="140,424.5 142,426.5 140,428.5 138,426.5" fill="#c9a9dc" fill-opacity="0.6" stroke="#5a2f7e" stroke-width="0.9"/>
<polygon points="142,426.51 144,428.51 142,430.51 140,428.51" fill="#c9a9dc" fill-opacity="0.6" stroke="#5a2f7e" stroke-width="0.9"/>
<polygon points="144,422.89 146,424.89 144,426.89 142,424.89" fill="#c9a9dc" fill-opacity="0.6" stroke="#5a2f7e" stroke-width="0.9"/>
<polygon points="146,426.23 148,428.23 146,430.23 144,428.23" fill="#c9a9dc" fill-opacity="0.6" stroke="#5a2f7e" stroke-width="0.9"/>
<polygon points="148,424.06 150,426.06 148,428.06 146,426.06" fill="#c9a9dc" fill-opacity="0.6" stroke="#5a2f7e" stroke-width="0.9"/>
<polygon points="150,425 152,427 150,429 148,427" fill="#c9a9dc" fill-opacity="0.6" stroke="#5a2f7e" stroke-width="0.9"/>
<polygon points="152,423.48 154,425.48 152,427.48 150,425.48" fill="#c9a9dc" fill-opacity="0.6" stroke="#5a2f7e" stroke-width="0.9"/>
<polygon points="154,423.27 156,425.27 154,427.27 152,425.27" fill="#c9a9dc" fill-opacity="0.6" stroke="#5a2f7e" stroke-width="0.9"/>
<polygon points="156,423.93 158,425.93 156,427.93 154,425.93" fill="#c9a9dc" fill-opacity="0.6" stroke="#5a2f7e" stroke-width="0.9"/>
<polygon points="158,425.86 160,427.86 158,429.86 156,427.86" fill="#c9a9dc" fill-opacity="0.6" stroke="#5a2f7e" stroke-width="0.9"/>
<polygon points="160,424.5 162,426.5 160,428.5 158,426.5" fill="#c9a9dc" fill-opacity="0.6" stroke="#5a2f7e" stroke-width="0.9"/>
<polygon points="175,424.5 177,426.5 175,428.5 173,426.5" fill="#c9a9dc" fill-opacity="0.6" stroke="#5a2f7e" stroke-width="0.9"/>
<polygon points="185,424 187,426 185,428 183,426" fill="#c9a9dc" fill-opacity="0.6" stroke="#5a2f7e" stroke-width="0.9"/>
<polygon points="195,424.2 197,426.2 195,428.2 193,426.2" fill="#c9a9dc" fill-opacity="0.6" stroke="#5a2f7e" stroke-width="0.9"/>
<polygon points="292.8,428.8 294.8,430.8 292.8,432.8 290.8,430.8" fill="#c9a9dc" fill-opacity="0.6" stroke="#5a2f7e" stroke-width="0.9"/>
<polyline points="86,437 88,428 90,418 91.4,413.8 94.1,399 96.8,397.7 99.5,388.9 102.2,400.4 104.2,411.1 106.2,406.4 108.9,396.3 110.3,400.4 113.6,405.8 115.6,413.8 118.3,420.6 121,423.3 123.7,426 126.4,416.5 129.1,413.8 131.8,427.3 135.2,423.3 137.2,420.22 139.2,420.03 141.2,417.9 145,425 147.15,425.06 149.3,424 151.33,423.54 153.35,424.29 155.38,422.4 157.4,424.2 165,430 173,429 180,432 190,434 200,436 228.2,437.8 240.5,437.8 292.8,437.8" fill="none" stroke="#5a2a7c" stroke-width="0.9" stroke-linejoin="round"/>
<rect x="84.35" y="435.35" width="3.3" height="3.3" fill="#c9a9dc" fill-opacity="0.7" stroke="#5a2a7c" stroke-width="0.9"/>
<rect x="86.35" y="426.35" width="3.3" height="3.3" fill="#c9a9dc" fill-opacity="0.7" stroke="#5a2a7c" stroke-width="0.9"/>
<rect x="88.35" y="416.35" width="3.3" height="3.3" fill="#c9a9dc" fill-opacity="0.7" stroke="#5a2a7c" stroke-width="0.9"/>
<rect x="89.75" y="412.15" width="3.3" height="3.3" fill="#c9a9dc" fill-opacity="0.7" stroke="#5a2a7c" stroke-width="0.9"/>
<rect x="92.45" y="397.35" width="3.3" height="3.3" fill="#c9a9dc" fill-opacity="0.7" stroke="#5a2a7c" stroke-width="0.9"/>
<rect x="95.15" y="396.05" width="3.3" height="3.3" fill="#c9a9dc" fill-opacity="0.7" stroke="#5a2a7c" stroke-width="0.9"/>
<rect x="97.85" y="387.25" width="3.3" height="3.3" fill="#c9a9dc" fill-opacity="0.7" stroke="#5a2a7c" stroke-width="0.9"/>
<rect x="100.55" y="398.75" width="3.3" height="3.3" fill="#c9a9dc" fill-opacity="0.7" stroke="#5a2a7c" stroke-width="0.9"/>
<rect x="102.55" y="409.45" width="3.3" height="3.3" fill="#c9a9dc" fill-opacity="0.7" stroke="#5a2a7c" stroke-width="0.9"/>
<rect x="104.55" y="404.75" width="3.3" height="3.3" fill="#c9a9dc" fill-opacity="0.7" stroke="#5a2a7c" stroke-width="0.9"/>
<rect x="107.25" y="394.65" width="3.3" height="3.3" fill="#c9a9dc" fill-opacity="0.7" stroke="#5a2a7c" stroke-width="0.9"/>
<rect x="108.65" y="398.75" width="3.3" height="3.3" fill="#c9a9dc" fill-opacity="0.7" stroke="#5a2a7c" stroke-width="0.9"/>
<rect x="111.95" y="404.15" width="3.3" height="3.3" fill="#c9a9dc" fill-opacity="0.7" stroke="#5a2a7c" stroke-width="0.9"/>
<rect x="113.95" y="412.15" width="3.3" height="3.3" fill="#c9a9dc" fill-opacity="0.7" stroke="#5a2a7c" stroke-width="0.9"/>
<rect x="116.65" y="418.95" width="3.3" height="3.3" fill="#c9a9dc" fill-opacity="0.7" stroke="#5a2a7c" stroke-width="0.9"/>
<rect x="119.35" y="421.65" width="3.3" height="3.3" fill="#c9a9dc" fill-opacity="0.7" stroke="#5a2a7c" stroke-width="0.9"/>
<rect x="122.05" y="424.35" width="3.3" height="3.3" fill="#c9a9dc" fill-opacity="0.7" stroke="#5a2a7c" stroke-width="0.9"/>
<rect x="124.75" y="414.85" width="3.3" height="3.3" fill="#c9a9dc" fill-opacity="0.7" stroke="#5a2a7c" stroke-width="0.9"/>
<rect x="127.45" y="412.15" width="3.3" height="3.3" fill="#c9a9dc" fill-opacity="0.7" stroke="#5a2a7c" stroke-width="0.9"/>
<rect x="130.15" y="425.65" width="3.3" height="3.3" fill="#c9a9dc" fill-opacity="0.7" stroke="#5a2a7c" stroke-width="0.9"/>
<rect x="133.55" y="421.65" width="3.3" height="3.3" fill="#c9a9dc" fill-opacity="0.7" stroke="#5a2a7c" stroke-width="0.9"/>
<rect x="135.55" y="418.57" width="3.3" height="3.3" fill="#c9a9dc" fill-opacity="0.7" stroke="#5a2a7c" stroke-width="0.9"/>
<rect x="137.55" y="418.38" width="3.3" height="3.3" fill="#c9a9dc" fill-opacity="0.7" stroke="#5a2a7c" stroke-width="0.9"/>
<rect x="139.55" y="416.25" width="3.3" height="3.3" fill="#c9a9dc" fill-opacity="0.7" stroke="#5a2a7c" stroke-width="0.9"/>
<rect x="143.35" y="423.35" width="3.3" height="3.3" fill="#c9a9dc" fill-opacity="0.7" stroke="#5a2a7c" stroke-width="0.9"/>
<rect x="145.5" y="423.41" width="3.3" height="3.3" fill="#c9a9dc" fill-opacity="0.7" stroke="#5a2a7c" stroke-width="0.9"/>
<rect x="147.65" y="422.35" width="3.3" height="3.3" fill="#c9a9dc" fill-opacity="0.7" stroke="#5a2a7c" stroke-width="0.9"/>
<rect x="149.68" y="421.89" width="3.3" height="3.3" fill="#c9a9dc" fill-opacity="0.7" stroke="#5a2a7c" stroke-width="0.9"/>
<rect x="151.7" y="422.64" width="3.3" height="3.3" fill="#c9a9dc" fill-opacity="0.7" stroke="#5a2a7c" stroke-width="0.9"/>
<rect x="153.72" y="420.75" width="3.3" height="3.3" fill="#c9a9dc" fill-opacity="0.7" stroke="#5a2a7c" stroke-width="0.9"/>
<rect x="155.75" y="422.55" width="3.3" height="3.3" fill="#c9a9dc" fill-opacity="0.7" stroke="#5a2a7c" stroke-width="0.9"/>
<rect x="163.35" y="428.35" width="3.3" height="3.3" fill="#c9a9dc" fill-opacity="0.7" stroke="#5a2a7c" stroke-width="0.9"/>
<rect x="171.35" y="427.35" width="3.3" height="3.3" fill="#c9a9dc" fill-opacity="0.7" stroke="#5a2a7c" stroke-width="0.9"/>
<rect x="178.35" y="430.35" width="3.3" height="3.3" fill="#c9a9dc" fill-opacity="0.7" stroke="#5a2a7c" stroke-width="0.9"/>
<rect x="188.35" y="432.35" width="3.3" height="3.3" fill="#c9a9dc" fill-opacity="0.7" stroke="#5a2a7c" stroke-width="0.9"/>
<rect x="198.35" y="434.35" width="3.3" height="3.3" fill="#c9a9dc" fill-opacity="0.7" stroke="#5a2a7c" stroke-width="0.9"/>
<rect x="226.55" y="436.15" width="3.3" height="3.3" fill="#c9a9dc" fill-opacity="0.7" stroke="#5a2a7c" stroke-width="0.9"/>
<rect x="238.85" y="436.15" width="3.3" height="3.3" fill="#c9a9dc" fill-opacity="0.7" stroke="#5a2a7c" stroke-width="0.9"/>
<rect x="291.15" y="436.15" width="3.3" height="3.3" fill="#c9a9dc" fill-opacity="0.7" stroke="#5a2a7c" stroke-width="0.9"/>
<polyline points="87,437 89,420 90.5,430 92,405 93.5,415 95,395 96.5,410 98,385 99.5,400 101,380 102.5,395 104,375 106,388 108,378 110,390 112,385 114,396 117,398.9 120,396" fill="none" stroke="#4b1d5e" stroke-width="0.9" stroke-linejoin="round"/>
<polygon points="87,434.92 87.55,436.24 88.98,436.36 87.89,437.29 88.22,438.68 87,437.94 85.78,438.68 86.11,437.29 85.02,436.36 86.45,436.24" fill="#4b1d5e"/>
<polygon points="89,417.92 89.55,419.24 90.98,419.36 89.89,420.29 90.22,421.68 89,420.94 87.78,421.68 88.11,420.29 87.02,419.36 88.45,419.24" fill="#4b1d5e"/>
<polygon points="90.5,427.92 91.05,429.24 92.48,429.36 91.39,430.29 91.72,431.68 90.5,430.94 89.28,431.68 89.61,430.29 88.52,429.36 89.95,429.24" fill="#4b1d5e"/>
<polygon points="92,402.92 92.55,404.24 93.98,404.36 92.89,405.29 93.22,406.68 92,405.94 90.78,406.68 91.11,405.29 90.02,404.36 91.45,404.24" fill="#4b1d5e"/>
<polygon points="93.5,412.92 94.05,414.24 95.48,414.36 94.39,415.29 94.72,416.68 93.5,415.94 92.28,416.68 92.61,415.29 91.52,414.36 92.95,414.24" fill="#4b1d5e"/>
<polygon points="95,392.92 95.55,394.24 96.98,394.36 95.89,395.29 96.22,396.68 95,395.94 93.78,396.68 94.11,395.29 93.02,394.36 94.45,394.24" fill="#4b1d5e"/>
<polygon points="96.5,407.92 97.05,409.24 98.48,409.36 97.39,410.29 97.72,411.68 96.5,410.94 95.28,411.68 95.61,410.29 94.52,409.36 95.95,409.24" fill="#4b1d5e"/>
<polygon points="98,382.92 98.55,384.24 99.98,384.36 98.89,385.29 99.22,386.68 98,385.94 96.78,386.68 97.11,385.29 96.02,384.36 97.45,384.24" fill="#4b1d5e"/>
<polygon points="99.5,397.92 100.05,399.24 101.48,399.36 100.39,400.29 100.72,401.68 99.5,400.94 98.28,401.68 98.61,400.29 97.52,399.36 98.95,399.24" fill="#4b1d5e"/>
<polygon points="101,377.92 101.55,379.24 102.98,379.36 101.89,380.29 102.22,381.68 101,380.94 99.78,381.68 100.11,380.29 99.02,379.36 100.45,379.24" fill="#4b1d5e"/>
<polygon points="102.5,392.92 103.05,394.24 104.48,394.36 103.39,395.29 103.72,396.68 102.5,395.94 101.28,396.68 101.61,395.29 100.52,394.36 101.95,394.24" fill="#4b1d5e"/>
<polygon points="104,372.92 104.55,374.24 105.98,374.36 104.89,375.29 105.22,376.68 104,375.94 102.78,376.68 103.11,375.29 102.02,374.36 103.45,374.24" fill="#4b1d5e"/>
<polygon points="106,385.92 106.55,387.24 107.98,387.36 106.89,388.29 107.22,389.68 106,388.94 104.78,389.68 105.11,388.29 104.02,387.36 105.45,387.24" fill="#4b1d5e"/>
<polygon points="108,375.92 108.55,377.24 109.98,377.36 108.89,378.29 109.22,379.68 108,378.94 106.78,379.68 107.11,378.29 106.02,377.36 107.45,377.24" fill="#4b1d5e"/>
<polygon points="110,387.92 110.55,389.24 111.98,389.36 110.89,390.29 111.22,391.68 110,390.94 108.78,391.68 109.11,390.29 108.02,389.36 109.45,389.24" fill="#4b1d5e"/>
<polygon points="112,382.92 112.55,384.24 113.98,384.36 112.89,385.29 113.22,386.68 112,385.94 110.78,386.68 111.11,385.29 110.02,384.36 111.45,384.24" fill="#4b1d5e"/>
<polygon points="114,393.92 114.55,395.24 115.98,395.36 114.89,396.29 115.22,397.68 114,396.94 112.78,397.68 113.11,396.29 112.02,395.36 113.45,395.24" fill="#4b1d5e"/>
<polygon points="117,396.82 117.55,398.14 118.98,398.26 117.89,399.19 118.22,400.58 117,399.84 115.78,400.58 116.11,399.19 115.02,398.26 116.45,398.14" fill="#4b1d5e"/>
<polygon points="120,393.92 120.55,395.24 121.98,395.36 120.89,396.29 121.22,397.68 120,396.94 118.78,397.68 119.11,396.29 118.02,395.36 119.45,395.24" fill="#4b1d5e"/>
<polyline points="87,436 88.5,428 90,433 91.5,418 93,428 94.5,410 96,420 97.5,402 99,412 100.5,396 102,408 103.5,392 105,404 106.5,398 108,410 109.5,402 111,414 113,408 115,418 117,412 119,420" fill="none" stroke="#3f1752" stroke-width="0.9" stroke-linejoin="round"/>
<circle cx="87" cy="436" r="1.17" fill="#3f1752"/>
<circle cx="88.5" cy="428" r="1.17" fill="#3f1752"/>
<circle cx="90" cy="433" r="1.17" fill="#3f1752"/>
<circle cx="91.5" cy="418" r="1.17" fill="#3f1752"/>
<circle cx="93" cy="428" r="1.17" fill="#3f1752"/>
<circle cx="94.5" cy="410" r="1.17" fill="#3f1752"/>
<circle cx="96" cy="420" r="1.17" fill="#3f1752"/>
<circle cx="97.5" cy="402" r="1.17" fill="#3f1752"/>
<circle cx="99" cy="412" r="1.17" fill="#3f1752"/>
<circle cx="100.5" cy="396" r="1.17" fill="#3f1752"/>
<circle cx="102" cy="408" r="1.17" fill="#3f1752"/>
<circle cx="103.5" cy="392" r="1.17" fill="#3f1752"/>
<circle cx="105" cy="404" r="1.17" fill="#3f1752"/>
<circle cx="106.5" cy="398" r="1.17" fill="#3f1752"/>
<circle cx="108" cy="410" r="1.17" fill="#3f1752"/>
<circle cx="109.5" cy="402" r="1.17" fill="#3f1752"/>
<circle cx="111" cy="414" r="1.17" fill="#3f1752"/>
<circle cx="113" cy="408" r="1.17" fill="#3f1752"/>
<circle cx="115" cy="418" r="1.17" fill="#3f1752"/>
<circle cx="117" cy="412" r="1.17" fill="#3f1752"/>
<circle cx="119" cy="420" r="1.17" fill="#3f1752"/>
<polyline points="85.8,419.2 87.4,433.4 89.5,425 91.5,410 93.5,400 95.5,392 97.5,400 99.5,385 101.5,392 103.5,380 105.5,390 107.5,384 109.5,395 112,398 115,396 117,399.7 119.7,395.7 122.4,378.8 125.7,395.7 127.8,379.5 131.1,388.3 135.8,404.4 137.2,395 141.2,384.9 143.2,400.4 149.3,403.1 157.4,402.4 164.9,390.2 173.5,403.7 182.2,411.7 189.7,417.7 196.4,427.1 202.7,428.6 211,429.8 226.7,419.4 256.5,427.7 264.2,426.8 274.4,423.7 292.8,429.2" fill="none" stroke="#3f1752" stroke-width="0.9" stroke-linejoin="round"/>
<circle cx="85.8" cy="419.2" r="1.3" fill="#3f1752"/>
<circle cx="87.4" cy="433.4" r="1.3" fill="#3f1752"/>
<circle cx="89.5" cy="425" r="1.3" fill="#3f1752"/>
<circle cx="91.5" cy="410" r="1.3" fill="#3f1752"/>
<circle cx="93.5" cy="400" r="1.3" fill="#3f1752"/>
<circle cx="95.5" cy="392" r="1.3" fill="#3f1752"/>
<circle cx="97.5" cy="400" r="1.3" fill="#3f1752"/>
<circle cx="99.5" cy="385" r="1.3" fill="#3f1752"/>
<circle cx="101.5" cy="392" r="1.3" fill="#3f1752"/>
<circle cx="103.5" cy="380" r="1.3" fill="#3f1752"/>
<circle cx="105.5" cy="390" r="1.3" fill="#3f1752"/>
<circle cx="107.5" cy="384" r="1.3" fill="#3f1752"/>
<circle cx="109.5" cy="395" r="1.3" fill="#3f1752"/>
<circle cx="112" cy="398" r="1.3" fill="#3f1752"/>
<circle cx="115" cy="396" r="1.3" fill="#3f1752"/>
<circle cx="117" cy="399.7" r="1.3" fill="#3f1752"/>
<circle cx="119.7" cy="395.7" r="1.3" fill="#3f1752"/>
<circle cx="122.4" cy="378.8" r="1.3" fill="#3f1752"/>
<circle cx="125.7" cy="395.7" r="1.3" fill="#3f1752"/>
<circle cx="127.8" cy="379.5" r="1.3" fill="#3f1752"/>
<circle cx="131.1" cy="388.3" r="1.3" fill="#3f1752"/>
<circle cx="135.8" cy="404.4" r="1.3" fill="#3f1752"/>
<circle cx="137.2" cy="395" r="1.3" fill="#3f1752"/>
<circle cx="141.2" cy="384.9" r="1.3" fill="#3f1752"/>
<circle cx="143.2" cy="400.4" r="1.3" fill="#3f1752"/>
<circle cx="149.3" cy="403.1" r="1.3" fill="#3f1752"/>
<circle cx="157.4" cy="402.4" r="1.3" fill="#3f1752"/>
<circle cx="164.9" cy="390.2" r="1.3" fill="#3f1752"/>
<circle cx="173.5" cy="403.7" r="1.3" fill="#3f1752"/>
<circle cx="182.2" cy="411.7" r="1.3" fill="#3f1752"/>
<circle cx="189.7" cy="417.7" r="1.3" fill="#3f1752"/>
<circle cx="196.4" cy="427.1" r="1.3" fill="#3f1752"/>
<circle cx="202.7" cy="428.6" r="1.3" fill="#3f1752"/>
<circle cx="211" cy="429.8" r="1.3" fill="#3f1752"/>
<circle cx="226.7" cy="419.4" r="1.3" fill="#3f1752"/>
<circle cx="256.5" cy="427.7" r="1.3" fill="#3f1752"/>
<circle cx="264.2" cy="426.8" r="1.3" fill="#3f1752"/>
<circle cx="274.4" cy="423.7" r="1.3" fill="#3f1752"/>
<circle cx="292.8" cy="429.2" r="1.3" fill="#3f1752"/>
<polyline points="86,438 88,434 90,428 91.7,412.8 94.6,398.3 97.2,376.7 99.4,389.4 101.7,372.2 103.3,361.7 105.6,380 106.1,362.2 108.9,361.1 110.5,370 113.3,371.7 115,364.4 117.8,348.9 120.6,364.4 122.3,364.2 124,370 127.8,354.4 130,377.8 131.7,364.4 133.3,360 133.9,375.6 139.4,367.8 141.7,339.4 142,346.5 149.4,369.6 157.4,363.5 165,368 173.5,391.5 181.6,392.9 195,386.2 212.8,376.9 219,374.5 292.8,395.4 344.2,365.5" fill="none" stroke="#4b1d5e" stroke-width="0.9" stroke-linejoin="round"/>
<circle cx="86" cy="438" r="1.17" fill="#4b1d5e"/>
<circle cx="88" cy="434" r="1.17" fill="#4b1d5e"/>
<circle cx="90" cy="428" r="1.17" fill="#4b1d5e"/>
<circle cx="91.7" cy="412.8" r="1.17" fill="#4b1d5e"/>
<circle cx="94.6" cy="398.3" r="1.17" fill="#4b1d5e"/>
<circle cx="97.2" cy="376.7" r="1.17" fill="#4b1d5e"/>
<circle cx="99.4" cy="389.4" r="1.17" fill="#4b1d5e"/>
<circle cx="101.7" cy="372.2" r="1.17" fill="#4b1d5e"/>
<circle cx="103.3" cy="361.7" r="1.17" fill="#4b1d5e"/>
<circle cx="105.6" cy="380" r="1.17" fill="#4b1d5e"/>
<circle cx="106.1" cy="362.2" r="1.17" fill="#4b1d5e"/>
<circle cx="108.9" cy="361.1" r="1.17" fill="#4b1d5e"/>
<circle cx="110.5" cy="370" r="1.17" fill="#4b1d5e"/>
<circle cx="113.3" cy="371.7" r="1.17" fill="#4b1d5e"/>
<circle cx="115" cy="364.4" r="1.17" fill="#4b1d5e"/>
<circle cx="117.8" cy="348.9" r="1.17" fill="#4b1d5e"/>
<circle cx="120.6" cy="364.4" r="1.17" fill="#4b1d5e"/>
<circle cx="122.3" cy="364.2" r="1.17" fill="#4b1d5e"/>
<circle cx="124" cy="370" r="1.17" fill="#4b1d5e"/>
<circle cx="127.8" cy="354.4" r="1.17" fill="#4b1d5e"/>
<circle cx="130" cy="377.8" r="1.17" fill="#4b1d5e"/>
<circle cx="131.7" cy="364.4" r="1.17" fill="#4b1d5e"/>
<circle cx="133.3" cy="360" r="1.17" fill="#4b1d5e"/>
<circle cx="133.9" cy="375.6" r="1.17" fill="#4b1d5e"/>
<circle cx="139.4" cy="367.8" r="1.17" fill="#4b1d5e"/>
<circle cx="141.7" cy="339.4" r="1.17" fill="#4b1d5e"/>
<circle cx="142" cy="346.5" r="1.17" fill="#4b1d5e"/>
<circle cx="149.4" cy="369.6" r="1.17" fill="#4b1d5e"/>
<circle cx="157.4" cy="363.5" r="1.17" fill="#4b1d5e"/>
<circle cx="165" cy="368" r="1.17" fill="#4b1d5e"/>
<circle cx="173.5" cy="391.5" r="1.17" fill="#4b1d5e"/>
<circle cx="181.6" cy="392.9" r="1.17" fill="#4b1d5e"/>
<circle cx="195" cy="386.2" r="1.17" fill="#4b1d5e"/>
<circle cx="212.8" cy="376.9" r="1.17" fill="#4b1d5e"/>
<circle cx="219" cy="374.5" r="1.17" fill="#4b1d5e"/>
<circle cx="292.8" cy="395.4" r="1.17" fill="#4b1d5e"/>
<circle cx="344.2" cy="365.5" r="1.17" fill="#4b1d5e"/>
<polyline points="86.5,437 88.5,432 90.5,428 92.5,410 94.6,382.7 97.5,376.9 99.5,389.5 102.9,361.8 104.8,373 107.2,360.9 109,368 111.1,354.4 111.7,345.6 113.3,335 116.1,328.3 117.8,328.3 120,343.3 122.2,354.4 123.3,336.1 124.4,357.8 125.6,327.8 125,317.8 128.3,344.4 133.3,344.4 141.1,319.4 149.4,324.2 157.1,349.6 164.9,345.2 173.5,340.4 181.1,342.3 189.2,304.8 198.3,345.8 204.8,319.7 206.4,325.6 206.4,357.9 210.4,364.6 212.8,376.9 211.9,395.4 214.1,390.8 216.5,386.2 219,400.9 242.7,410.2 248.8,411.7 292.8,419.4 344.2,429.2" fill="none" stroke="#4b1d5e" stroke-width="0.9" stroke-linejoin="round"/>
<polygon points="86.5,434.4 87.19,436.05 88.97,436.2 87.61,437.36 88.03,439.1 86.5,438.17 84.97,439.1 85.39,437.36 84.03,436.2 85.81,436.05" fill="#4b1d5e"/>
<polygon points="88.5,429.4 89.19,431.05 90.97,431.2 89.61,432.36 90.03,434.1 88.5,433.17 86.97,434.1 87.39,432.36 86.03,431.2 87.81,431.05" fill="#4b1d5e"/>
<polygon points="90.5,425.4 91.19,427.05 92.97,427.2 91.61,428.36 92.03,430.1 90.5,429.17 88.97,430.1 89.39,428.36 88.03,427.2 89.81,427.05" fill="#4b1d5e"/>
<polygon points="92.5,407.4 93.19,409.05 94.97,409.2 93.61,410.36 94.03,412.1 92.5,411.17 90.97,412.1 91.39,410.36 90.03,409.2 91.81,409.05" fill="#4b1d5e"/>
<polygon points="94.6,380.1 95.29,381.75 97.07,381.9 95.71,383.06 96.13,384.8 94.6,383.87 93.07,384.8 93.49,383.06 92.13,381.9 93.91,381.75" fill="#4b1d5e"/>
<polygon points="97.5,374.3 98.19,375.95 99.97,376.1 98.61,377.26 99.03,379 97.5,378.07 95.97,379 96.39,377.26 95.03,376.1 96.81,375.95" fill="#4b1d5e"/>
<polygon points="99.5,386.9 100.19,388.55 101.97,388.7 100.61,389.86 101.03,391.6 99.5,390.67 97.97,391.6 98.39,389.86 97.03,388.7 98.81,388.55" fill="#4b1d5e"/>
<polygon points="102.9,359.2 103.59,360.85 105.37,361 104.01,362.16 104.43,363.9 102.9,362.97 101.37,363.9 101.79,362.16 100.43,361 102.21,360.85" fill="#4b1d5e"/>
<polygon points="104.8,370.4 105.49,372.05 107.27,372.2 105.91,373.36 106.33,375.1 104.8,374.17 103.27,375.1 103.69,373.36 102.33,372.2 104.11,372.05" fill="#4b1d5e"/>
<polygon points="107.2,358.3 107.89,359.95 109.67,360.1 108.31,361.26 108.73,363 107.2,362.07 105.67,363 106.09,361.26 104.73,360.1 106.51,359.95" fill="#4b1d5e"/>
<polygon points="109,365.4 109.69,367.05 111.47,367.2 110.11,368.36 110.53,370.1 109,369.17 107.47,370.1 107.89,368.36 106.53,367.2 108.31,367.05" fill="#4b1d5e"/>
<polygon points="111.1,351.8 111.79,353.45 113.57,353.6 112.21,354.76 112.63,356.5 111.1,355.57 109.57,356.5 109.99,354.76 108.63,353.6 110.41,353.45" fill="#4b1d5e"/>
<polygon points="111.7,343 112.39,344.65 114.17,344.8 112.81,345.96 113.23,347.7 111.7,346.77 110.17,347.7 110.59,345.96 109.23,344.8 111.01,344.65" fill="#4b1d5e"/>
<polygon points="113.3,332.4 113.99,334.05 115.77,334.2 114.41,335.36 114.83,337.1 113.3,336.17 111.77,337.1 112.19,335.36 110.83,334.2 112.61,334.05" fill="#4b1d5e"/>
<polygon points="116.1,325.7 116.79,327.35 118.57,327.5 117.21,328.66 117.63,330.4 116.1,329.47 114.57,330.4 114.99,328.66 113.63,327.5 115.41,327.35" fill="#4b1d5e"/>
<polygon points="117.8,325.7 118.49,327.35 120.27,327.5 118.91,328.66 119.33,330.4 117.8,329.47 116.27,330.4 116.69,328.66 115.33,327.5 117.11,327.35" fill="#4b1d5e"/>
<polygon points="120,340.7 120.69,342.35 122.47,342.5 121.11,343.66 121.53,345.4 120,344.47 118.47,345.4 118.89,343.66 117.53,342.5 119.31,342.35" fill="#4b1d5e"/>
<polygon points="122.2,351.8 122.89,353.45 124.67,353.6 123.31,354.76 123.73,356.5 122.2,355.57 120.67,356.5 121.09,354.76 119.73,353.6 121.51,353.45" fill="#4b1d5e"/>
<polygon points="123.3,333.5 123.99,335.15 125.77,335.3 124.41,336.46 124.83,338.2 123.3,337.27 121.77,338.2 122.19,336.46 120.83,335.3 122.61,335.15" fill="#4b1d5e"/>
<polygon points="124.4,355.2 125.09,356.85 126.87,357 125.51,358.16 125.93,359.9 124.4,358.97 122.87,359.9 123.29,358.16 121.93,357 123.71,356.85" fill="#4b1d5e"/>
<polygon points="125.6,325.2 126.29,326.85 128.07,327 126.71,328.16 127.13,329.9 125.6,328.97 124.07,329.9 124.49,328.16 123.13,327 124.91,326.85" fill="#4b1d5e"/>
<polygon points="125,315.2 125.69,316.85 127.47,317 126.11,318.16 126.53,319.9 125,318.97 123.47,319.9 123.89,318.16 122.53,317 124.31,316.85" fill="#4b1d5e"/>
<polygon points="128.3,341.8 128.99,343.45 130.77,343.6 129.41,344.76 129.83,346.5 128.3,345.57 126.77,346.5 127.19,344.76 125.83,343.6 127.61,343.45" fill="#4b1d5e"/>
<polygon points="133.3,341.8 133.99,343.45 135.77,343.6 134.41,344.76 134.83,346.5 133.3,345.57 131.77,346.5 132.19,344.76 130.83,343.6 132.61,343.45" fill="#4b1d5e"/>
<polygon points="141.1,316.8 141.79,318.45 143.57,318.6 142.21,319.76 142.63,321.5 141.1,320.57 139.57,321.5 139.99,319.76 138.63,318.6 140.41,318.45" fill="#4b1d5e"/>
<polygon points="149.4,321.6 150.09,323.25 151.87,323.4 150.51,324.56 150.93,326.3 149.4,325.37 147.87,326.3 148.29,324.56 146.93,323.4 148.71,323.25" fill="#4b1d5e"/>
<polygon points="157.1,347 157.79,348.65 159.57,348.8 158.21,349.96 158.63,351.7 157.1,350.77 155.57,351.7 155.99,349.96 154.63,348.8 156.41,348.65" fill="#4b1d5e"/>
<polygon points="164.9,342.6 165.59,344.25 167.37,344.4 166.01,345.56 166.43,347.3 164.9,346.37 163.37,347.3 163.79,345.56 162.43,344.4 164.21,344.25" fill="#4b1d5e"/>
<polygon points="173.5,337.8 174.19,339.45 175.97,339.6 174.61,340.76 175.03,342.5 173.5,341.57 171.97,342.5 172.39,340.76 171.03,339.6 172.81,339.45" fill="#4b1d5e"/>
<polygon points="181.1,339.7 181.79,341.35 183.57,341.5 182.21,342.66 182.63,344.4 181.1,343.47 179.57,344.4 179.99,342.66 178.63,341.5 180.41,341.35" fill="#4b1d5e"/>
<polygon points="189.2,302.2 189.89,303.85 191.67,304 190.31,305.16 190.73,306.9 189.2,305.97 187.67,306.9 188.09,305.16 186.73,304 188.51,303.85" fill="#4b1d5e"/>
<polygon points="198.3,343.2 198.99,344.85 200.77,345 199.41,346.16 199.83,347.9 198.3,346.97 196.77,347.9 197.19,346.16 195.83,345 197.61,344.85" fill="#4b1d5e"/>
<polygon points="204.8,317.1 205.49,318.75 207.27,318.9 205.91,320.06 206.33,321.8 204.8,320.87 203.27,321.8 203.69,320.06 202.33,318.9 204.11,318.75" fill="#4b1d5e"/>
<polygon points="206.4,323 207.09,324.65 208.87,324.8 207.51,325.96 207.93,327.7 206.4,326.77 204.87,327.7 205.29,325.96 203.93,324.8 205.71,324.65" fill="#4b1d5e"/>
<polygon points="206.4,355.3 207.09,356.95 208.87,357.1 207.51,358.26 207.93,360 206.4,359.07 204.87,360 205.29,358.26 203.93,357.1 205.71,356.95" fill="#4b1d5e"/>
<polygon points="210.4,362 211.09,363.65 212.87,363.8 211.51,364.96 211.93,366.7 210.4,365.77 208.87,366.7 209.29,364.96 207.93,363.8 209.71,363.65" fill="#4b1d5e"/>
<polygon points="212.8,374.3 213.49,375.95 215.27,376.1 213.91,377.26 214.33,379 212.8,378.07 211.27,379 211.69,377.26 210.33,376.1 212.11,375.95" fill="#4b1d5e"/>
<polygon points="211.9,392.8 212.59,394.45 214.37,394.6 213.01,395.76 213.43,397.5 211.9,396.57 210.37,397.5 210.79,395.76 209.43,394.6 211.21,394.45" fill="#4b1d5e"/>
<polygon points="214.1,388.2 214.79,389.85 216.57,390 215.21,391.16 215.63,392.9 214.1,391.97 212.57,392.9 212.99,391.16 211.63,390 213.41,389.85" fill="#4b1d5e"/>
<polygon points="216.5,383.6 217.19,385.25 218.97,385.4 217.61,386.56 218.03,388.3 216.5,387.37 214.97,388.3 215.39,386.56 214.03,385.4 215.81,385.25" fill="#4b1d5e"/>
<polygon points="219,398.3 219.69,399.95 221.47,400.1 220.11,401.26 220.53,403 219,402.07 217.47,403 217.89,401.26 216.53,400.1 218.31,399.95" fill="#4b1d5e"/>
<polygon points="242.7,407.6 243.39,409.25 245.17,409.4 243.81,410.56 244.23,412.3 242.7,411.37 241.17,412.3 241.59,410.56 240.23,409.4 242.01,409.25" fill="#4b1d5e"/>
<polygon points="248.8,409.1 249.49,410.75 251.27,410.9 249.91,412.06 250.33,413.8 248.8,412.87 247.27,413.8 247.69,412.06 246.33,410.9 248.11,410.75" fill="#4b1d5e"/>
<polygon points="292.8,416.8 293.49,418.45 295.27,418.6 293.91,419.76 294.33,421.5 292.8,420.57 291.27,421.5 291.69,419.76 290.33,418.6 292.11,418.45" fill="#4b1d5e"/>
<polygon points="344.2,426.6 344.89,428.25 346.67,428.4 345.31,429.56 345.73,431.3 344.2,430.37 342.67,431.3 343.09,429.56 341.73,428.4 343.51,428.25" fill="#4b1d5e"/>
<line x1="86.48" y1="659.7" x2="86.48" y2="685" stroke="#636363" stroke-width="1.25"/>
<rect x="84.93" y="662.3" width="3.1" height="21.4" fill="#3688b8" stroke="#173d57" stroke-width="0.8"/>
<polygon points="86.48,670.9 88.28,672.7 86.48,674.5 84.68,672.7" fill="#3a8fc0" stroke="#0b2639" stroke-width="1.25"/>
<line x1="89.54" y1="643" x2="89.54" y2="678" stroke="#636363" stroke-width="1.25"/>
<rect x="87.99" y="645.5" width="3.1" height="30.5" fill="#3688b8" stroke="#173d57" stroke-width="0.8"/>
<polygon points="89.54,657.9 91.34,659.7 89.54,661.5 87.74,659.7" fill="#3a8fc0" stroke="#0b2639" stroke-width="1.25"/>
<line x1="92.6" y1="602.1" x2="92.6" y2="670.8" stroke="#636363" stroke-width="1.25"/>
<rect x="91.05" y="611.8" width="3.1" height="57" fill="#3688b8" stroke="#173d57" stroke-width="0.8"/>
<polygon points="92.6,637.9 94.4,639.7 92.6,641.5 90.8,639.7" fill="#3a8fc0" stroke="#0b2639" stroke-width="1.25"/>
<line x1="95.66" y1="604" x2="95.66" y2="670" stroke="#636363" stroke-width="1.25"/>
<rect x="94.11" y="626" width="3.1" height="26" fill="#3688b8" stroke="#173d57" stroke-width="0.8"/>
<polygon points="95.66,635.2 97.46,637 95.66,638.8 93.86,637" fill="#3a8fc0" stroke="#0b2639" stroke-width="1.25"/>
<line x1="98.72" y1="619" x2="98.72" y2="689.5" stroke="#636363" stroke-width="1.25"/>
<rect x="97.17" y="623.5" width="3.1" height="25.9" fill="#3688b8" stroke="#173d57" stroke-width="0.8"/>
<polygon points="98.72,643.7 100.52,645.5 98.72,647.3 96.92,645.5" fill="#3a8fc0" stroke="#0b2639" stroke-width="1.25"/>
<line x1="101.78" y1="603.4" x2="101.78" y2="668.8" stroke="#636363" stroke-width="1.25"/>
<rect x="100.23" y="617.6" width="3.1" height="25.3" fill="#3688b8" stroke="#173d57" stroke-width="0.8"/>
<polygon points="101.78,631.4 103.58,633.2 101.78,635 99.98,633.2" fill="#3a8fc0" stroke="#0b2639" stroke-width="1.25"/>
<line x1="104.84" y1="581.4" x2="104.84" y2="650" stroke="#636363" stroke-width="1.25"/>
<rect x="103.29" y="581.4" width="3.1" height="68.6" fill="#3688b8" stroke="#173d57" stroke-width="0.8"/>
<polygon points="104.84,619.7 106.64,621.5 104.84,623.3 103.04,621.5" fill="#3a8fc0" stroke="#0b2639" stroke-width="1.25"/>
<line x1="107.9" y1="605.3" x2="107.9" y2="628" stroke="#636363" stroke-width="1.25"/>
<rect x="106.35" y="611.8" width="3.1" height="13" fill="#3688b8" stroke="#173d57" stroke-width="0.8"/>
<polygon points="107.9,616.2 109.7,618 107.9,619.8 106.1,618" fill="#3a8fc0" stroke="#0b2639" stroke-width="1.25"/>
<circle cx="107.9" cy="653" r="1.8" fill="none" stroke="#333" stroke-width="0.9"/>
<line x1="110.96" y1="591.1" x2="110.96" y2="646.8" stroke="#636363" stroke-width="1.25"/>
<rect x="109.41" y="607.3" width="3.1" height="30.4" fill="#3688b8" stroke="#173d57" stroke-width="0.8"/>
<polygon points="110.96,618.4 112.76,620.2 110.96,622 109.16,620.2" fill="#3a8fc0" stroke="#0b2639" stroke-width="1.25"/>
<line x1="114.02" y1="586.6" x2="114.02" y2="655" stroke="#636363" stroke-width="1.25"/>
<rect x="112.47" y="614.4" width="3.1" height="31.7" fill="#3688b8" stroke="#173d57" stroke-width="0.8"/>
<polygon points="114.02,624.2 115.82,626 114.02,627.8 112.22,626" fill="#3a8fc0" stroke="#0b2639" stroke-width="1.25"/>
<line x1="117.08" y1="570.6" x2="117.08" y2="657.4" stroke="#636363" stroke-width="1.25"/>
<rect x="115.53" y="577.2" width="3.1" height="56.6" fill="#3688b8" stroke="#173d57" stroke-width="0.8"/>
<polygon points="117.08,613.1 118.88,614.9 117.08,616.7 115.28,614.9" fill="#3a8fc0" stroke="#0b2639" stroke-width="1.25"/>
<line x1="120.14" y1="556.7" x2="120.14" y2="662" stroke="#636363" stroke-width="1.25"/>
<rect x="118.59" y="597.6" width="3.1" height="50.3" fill="#3688b8" stroke="#173d57" stroke-width="0.8"/>
<polygon points="120.14,620.2 121.94,622 120.14,623.8 118.34,622" fill="#3a8fc0" stroke="#0b2639" stroke-width="1.25"/>
<line x1="123.2" y1="548.6" x2="123.2" y2="670.7" stroke="#636363" stroke-width="1.25"/>
<rect x="121.65" y="587.4" width="3.1" height="68.4" fill="#3688b8" stroke="#173d57" stroke-width="0.8"/>
<polygon points="123.2,620.2 125,622 123.2,623.8 121.4,622" fill="#3a8fc0" stroke="#0b2639" stroke-width="1.25"/>
<line x1="126.26" y1="556" x2="126.26" y2="670.7" stroke="#636363" stroke-width="1.25"/>
<rect x="124.71" y="567.4" width="3.1" height="97" fill="#3688b8" stroke="#173d57" stroke-width="0.8"/>
<polygon points="126.26,620.2 128.06,622 126.26,623.8 124.46,622" fill="#3a8fc0" stroke="#0b2639" stroke-width="1.25"/>
<line x1="129.32" y1="558" x2="129.32" y2="680.2" stroke="#636363" stroke-width="1.25"/>
<rect x="127.77" y="588.2" width="3.1" height="83.3" fill="#3688b8" stroke="#173d57" stroke-width="0.8"/>
<polygon points="129.32,625.7 131.12,627.5 129.32,629.3 127.52,627.5" fill="#3a8fc0" stroke="#0b2639" stroke-width="1.25"/>
<line x1="132.38" y1="561.4" x2="132.38" y2="681" stroke="#636363" stroke-width="1.25"/>
<rect x="130.83" y="592.1" width="3.1" height="84.1" fill="#3688b8" stroke="#173d57" stroke-width="0.8"/>
<polygon points="132.38,624.9 134.18,626.7 132.38,628.5 130.58,626.7" fill="#3a8fc0" stroke="#0b2639" stroke-width="1.25"/>
<line x1="135.44" y1="564.3" x2="135.44" y2="681.7" stroke="#636363" stroke-width="1.25"/>
<rect x="133.89" y="590.5" width="3.1" height="86.5" fill="#3688b8" stroke="#173d57" stroke-width="0.8"/>
<polygon points="135.44,621 137.24,622.8 135.44,624.6 133.64,622.8" fill="#3a8fc0" stroke="#0b2639" stroke-width="1.25"/>
<line x1="138.5" y1="540.7" x2="138.5" y2="681" stroke="#636363" stroke-width="1.25"/>
<rect x="136.95" y="548.1" width="3.1" height="120.3" fill="#3688b8" stroke="#173d57" stroke-width="0.8"/>
<polygon points="138.5,610.7 140.3,612.5 138.5,614.3 136.7,612.5" fill="#3a8fc0" stroke="#0b2639" stroke-width="1.25"/>
<line x1="150.74" y1="572.3" x2="150.74" y2="678" stroke="#636363" stroke-width="1.25"/>
<rect x="149.19" y="587.1" width="3.1" height="90.9" fill="#3688b8" stroke="#173d57" stroke-width="0.8"/>
<polygon points="150.74,626.5 152.94,628.7 150.74,630.9 148.54,628.7" fill="#7ab3d3" stroke="#0b2639" stroke-width="1.25"/>
<line x1="162.98" y1="529" x2="162.98" y2="684" stroke="#636363" stroke-width="1.25"/>
<rect x="161.43" y="568" width="3.1" height="112.5" fill="#3688b8" stroke="#173d57" stroke-width="0.8"/>
<line x1="161.43" y1="637.2" x2="164.53" y2="637.2" stroke="#173d57" stroke-width="0.8"/>
<polygon points="162.98,617.7 165.18,619.9 162.98,622.1 160.78,619.9" fill="#7ab3d3" stroke="#0b2639" stroke-width="1.25"/>
<line x1="175.22" y1="545.2" x2="175.22" y2="685.4" stroke="#636363" stroke-width="1.25"/>
<rect x="173.67" y="592" width="3.1" height="90.6" fill="#3688b8" stroke="#173d57" stroke-width="0.8"/>
<line x1="173.67" y1="644.2" x2="176.77" y2="644.2" stroke="#173d57" stroke-width="0.8"/>
<polygon points="175.22,627.2 177.42,629.4 175.22,631.6 173.02,629.4" fill="#7ab3d3" stroke="#0b2639" stroke-width="1.25"/>
<line x1="187.46" y1="570.8" x2="187.46" y2="682.2" stroke="#636363" stroke-width="1.25"/>
<rect x="185.91" y="577.1" width="3.1" height="102.6" fill="#3688b8" stroke="#173d57" stroke-width="0.8"/>
<line x1="185.91" y1="651.6" x2="189.01" y2="651.6" stroke="#173d57" stroke-width="0.8"/>
<polygon points="187.46,629.9 189.66,632.1 187.46,634.3 185.26,632.1" fill="#7ab3d3" stroke="#0b2639" stroke-width="1.25"/>
<line x1="199.7" y1="558.1" x2="199.7" y2="692.8" stroke="#636363" stroke-width="1.25"/>
<rect x="198.15" y="592.8" width="3.1" height="83.5" fill="#3688b8" stroke="#173d57" stroke-width="0.8"/>
<line x1="198.15" y1="651.1" x2="201.25" y2="651.1" stroke="#173d57" stroke-width="0.8"/>
<polygon points="199.7,632 201.9,634.2 199.7,636.4 197.5,634.2" fill="#7ab3d3" stroke="#0b2639" stroke-width="1.25"/>
<line x1="211.94" y1="548.4" x2="211.94" y2="686.4" stroke="#636363" stroke-width="1.25"/>
<rect x="210.39" y="588.8" width="3.1" height="79.7" fill="#3688b8" stroke="#173d57" stroke-width="0.8"/>
<line x1="210.39" y1="639.3" x2="213.49" y2="639.3" stroke="#173d57" stroke-width="0.8"/>
<polygon points="211.94,626.1 214.14,628.3 211.94,630.5 209.74,628.3" fill="#7ab3d3" stroke="#0b2639" stroke-width="1.25"/>
<line x1="224.18" y1="560.2" x2="224.18" y2="683.3" stroke="#636363" stroke-width="1.25"/>
<rect x="222.63" y="618.8" width="3.1" height="59.6" fill="#3688b8" stroke="#173d57" stroke-width="0.8"/>
<line x1="222.63" y1="661.5" x2="225.73" y2="661.5" stroke="#173d57" stroke-width="0.8"/>
<polygon points="224.18,638.2 226.38,640.4 224.18,642.6 221.98,640.4" fill="#7ab3d3" stroke="#0b2639" stroke-width="1.25"/>
<line x1="236.42" y1="574" x2="236.42" y2="691.7" stroke="#636363" stroke-width="1.25"/>
<rect x="234.87" y="625.6" width="3.1" height="60.8" fill="#3688b8" stroke="#173d57" stroke-width="0.8"/>
<line x1="234.87" y1="679" x2="237.97" y2="679" stroke="#173d57" stroke-width="0.8"/>
<polygon points="236.42,653.6 238.62,655.8 236.42,658 234.22,655.8" fill="#7ab3d3" stroke="#0b2639" stroke-width="1.25"/>
<line x1="315.98" y1="581.8" x2="315.98" y2="698.6" stroke="#636363" stroke-width="1.25"/>
<rect x="314.43" y="611.5" width="3.1" height="75.7" fill="#3688b8" stroke="#173d57" stroke-width="0.8"/>
<line x1="314.43" y1="658.3" x2="317.53" y2="658.3" stroke="#173d57" stroke-width="0.8"/>
<polygon points="315.98,647.1 318.18,649.3 315.98,651.5 313.78,649.3" fill="#7ab3d3" stroke="#0b2639" stroke-width="1.25"/>
<line x1="395.54" y1="671.8" x2="395.54" y2="698.5" stroke="#636363" stroke-width="1.25"/>
<rect x="393.99" y="671.8" width="3.1" height="16.5" fill="#3688b8" stroke="#173d57" stroke-width="0.8"/>
<polygon points="395.54,671.3 397.74,673.5 395.54,675.7 393.34,673.5" fill="#7ab3d3" stroke="#0b2639" stroke-width="1.25"/>
<circle cx="395.54" cy="626" r="1.8" fill="none" stroke="#333" stroke-width="0.9"/>
<line x1="475.1" y1="583.5" x2="475.1" y2="685.6" stroke="#636363" stroke-width="1.25"/>
<rect x="473.55" y="583.5" width="3.1" height="102.1" fill="#3688b8" stroke="#173d57" stroke-width="0.8"/>
<polygon points="475.1,632.3 477.3,634.5 475.1,636.7 472.9,634.5" fill="#7ab3d3" stroke="#0b2639" stroke-width="1.25"/>
<line x1="86.48" y1="969" x2="86.48" y2="989.2" stroke="#636363" stroke-width="1.25"/>
<rect x="84.93" y="969.2" width="3.1" height="20" fill="#3688b8" stroke="#173d57" stroke-width="0.8"/>
<polygon points="86.48,976.5 88.28,978.3 86.48,980.1 84.68,978.3" fill="#3a8fc0" stroke="#0b2639" stroke-width="1.25"/>
<line x1="89.54" y1="947.5" x2="89.54" y2="982.5" stroke="#636363" stroke-width="1.25"/>
<rect x="87.99" y="954.2" width="3.1" height="28.3" fill="#3688b8" stroke="#173d57" stroke-width="0.8"/>
<polygon points="89.54,965.7 91.34,967.5 89.54,969.3 87.74,967.5" fill="#3a8fc0" stroke="#0b2639" stroke-width="1.25"/>
<line x1="92.6" y1="925" x2="92.6" y2="975" stroke="#636363" stroke-width="1.25"/>
<rect x="91.05" y="925" width="3.1" height="44.2" fill="#3688b8" stroke="#173d57" stroke-width="0.8"/>
<polygon points="92.6,945.7 94.4,947.5 92.6,949.3 90.8,947.5" fill="#3a8fc0" stroke="#0b2639" stroke-width="1.25"/>
<line x1="95.66" y1="915.8" x2="95.66" y2="973.3" stroke="#636363" stroke-width="1.25"/>
<rect x="94.11" y="921.3" width="3.1" height="35.4" fill="#3688b8" stroke="#173d57" stroke-width="0.8"/>
<polygon points="95.66,940.7 97.46,942.5 95.66,944.3 93.86,942.5" fill="#3a8fc0" stroke="#0b2639" stroke-width="1.25"/>
<line x1="98.72" y1="925" x2="98.72" y2="974.2" stroke="#636363" stroke-width="1.25"/>
<rect x="97.17" y="934.2" width="3.1" height="27.5" fill="#3688b8" stroke="#173d57" stroke-width="0.8"/>
<polygon points="98.72,946.5 100.52,948.3 98.72,950.1 96.92,948.3" fill="#3a8fc0" stroke="#0b2639" stroke-width="1.25"/>
<line x1="101.78" y1="910.8" x2="101.78" y2="973.3" stroke="#636363" stroke-width="1.25"/>
<rect x="100.23" y="914.2" width="3.1" height="35.8" fill="#3688b8" stroke="#173d57" stroke-width="0.8"/>
<polygon points="101.78,937.4 103.58,939.2 101.78,941 99.98,939.2" fill="#3a8fc0" stroke="#0b2639" stroke-width="1.25"/>
<line x1="104.84" y1="895.8" x2="104.84" y2="961.7" stroke="#636363" stroke-width="1.25"/>
<rect x="103.29" y="910" width="3.1" height="40" fill="#3688b8" stroke="#173d57" stroke-width="0.8"/>
<polygon points="104.84,929.9 106.64,931.7 104.84,933.5 103.04,931.7" fill="#3a8fc0" stroke="#0b2639" stroke-width="1.25"/>
<line x1="107.9" y1="915.8" x2="107.9" y2="932" stroke="#636363" stroke-width="1.25"/>
<rect x="106.35" y="920.8" width="3.1" height="9.2" fill="#3688b8" stroke="#173d57" stroke-width="0.8"/>
<polygon points="107.9,924 109.7,925.8 107.9,927.6 106.1,925.8" fill="#3a8fc0" stroke="#0b2639" stroke-width="1.25"/>
<circle cx="107.9" cy="964.2" r="1.8" fill="none" stroke="#333" stroke-width="0.9"/>
<line x1="110.96" y1="894.2" x2="110.96" y2="951.7" stroke="#636363" stroke-width="1.25"/>
<rect x="109.41" y="909.2" width="3.1" height="35.8" fill="#3688b8" stroke="#173d57" stroke-width="0.8"/>
<polygon points="110.96,923.2 112.76,925 110.96,926.8 109.16,925" fill="#3a8fc0" stroke="#0b2639" stroke-width="1.25"/>
<line x1="114.02" y1="898.3" x2="114.02" y2="955" stroke="#636363" stroke-width="1.25"/>
<rect x="112.47" y="925" width="3.1" height="26.7" fill="#3688b8" stroke="#173d57" stroke-width="0.8"/>
<polygon points="114.02,933.2 115.82,935 114.02,936.8 112.22,935" fill="#3a8fc0" stroke="#0b2639" stroke-width="1.25"/>
<line x1="117.08" y1="872.5" x2="117.08" y2="963.3" stroke="#636363" stroke-width="1.25"/>
<rect x="115.53" y="885" width="3.1" height="60" fill="#3688b8" stroke="#173d57" stroke-width="0.8"/>
<polygon points="117.08,916.5 118.88,918.3 117.08,920.1 115.28,918.3" fill="#3a8fc0" stroke="#0b2639" stroke-width="1.25"/>
<line x1="120.14" y1="857.5" x2="120.14" y2="968.3" stroke="#636363" stroke-width="1.25"/>
<rect x="118.59" y="909.2" width="3.1" height="44.1" fill="#3688b8" stroke="#173d57" stroke-width="0.8"/>
<polygon points="120.14,925.7 121.94,927.5 120.14,929.3 118.34,927.5" fill="#3a8fc0" stroke="#0b2639" stroke-width="1.25"/>
<line x1="123.2" y1="848.3" x2="123.2" y2="977.5" stroke="#636363" stroke-width="1.25"/>
<rect x="121.65" y="899.2" width="3.1" height="60.8" fill="#3688b8" stroke="#173d57" stroke-width="0.8"/>
<polygon points="123.2,924.9 125,926.7 123.2,928.5 121.4,926.7" fill="#3a8fc0" stroke="#0b2639" stroke-width="1.25"/>
<line x1="126.26" y1="848.3" x2="126.26" y2="977.5" stroke="#636363" stroke-width="1.25"/>
<rect x="124.71" y="878.3" width="3.1" height="90.9" fill="#3688b8" stroke="#173d57" stroke-width="0.8"/>
<polygon points="126.26,922.4 128.06,924.2 126.26,926 124.46,924.2" fill="#3a8fc0" stroke="#0b2639" stroke-width="1.25"/>
<line x1="129.32" y1="869.2" x2="129.32" y2="982.5" stroke="#636363" stroke-width="1.25"/>
<rect x="127.77" y="900" width="3.1" height="72.5" fill="#3688b8" stroke="#173d57" stroke-width="0.8"/>
<polygon points="129.32,931.5 131.12,933.3 129.32,935.1 127.52,933.3" fill="#3a8fc0" stroke="#0b2639" stroke-width="1.25"/>
<line x1="132.38" y1="884.2" x2="132.38" y2="985.8" stroke="#636363" stroke-width="1.25"/>
<rect x="130.83" y="900" width="3.1" height="82.5" fill="#3688b8" stroke="#173d57" stroke-width="0.8"/>
<polygon points="132.38,933.2 134.18,935 132.38,936.8 130.58,935" fill="#3a8fc0" stroke="#0b2639" stroke-width="1.25"/>
<line x1="135.44" y1="859.7" x2="135.44" y2="985.8" stroke="#636363" stroke-width="1.25"/>
<rect x="133.89" y="890.8" width="3.1" height="91.7" fill="#3688b8" stroke="#173d57" stroke-width="0.8"/>
<polygon points="135.44,925.7 137.24,927.5 135.44,929.3 133.64,927.5" fill="#3a8fc0" stroke="#0b2639" stroke-width="1.25"/>
<line x1="138.5" y1="834.2" x2="138.5" y2="986.7" stroke="#636363" stroke-width="1.25"/>
<rect x="136.95" y="865.8" width="3.1" height="107.5" fill="#3688b8" stroke="#173d57" stroke-width="0.8"/>
<polygon points="138.5,916.5 140.3,918.3 138.5,920.1 136.7,918.3" fill="#3a8fc0" stroke="#0b2639" stroke-width="1.25"/>
<line x1="150.74" y1="870.6" x2="150.74" y2="983.9" stroke="#636363" stroke-width="1.25"/>
<rect x="149.19" y="905" width="3.1" height="78.9" fill="#3688b8" stroke="#173d57" stroke-width="0.8"/>
<polygon points="150.74,934.6 152.94,936.8 150.74,939 148.54,936.8" fill="#7ab3d3" stroke="#0b2639" stroke-width="1.25"/>
<line x1="162.98" y1="836.3" x2="162.98" y2="987.5" stroke="#636363" stroke-width="1.25"/>
<rect x="161.43" y="880.7" width="3.1" height="101.9" fill="#3688b8" stroke="#173d57" stroke-width="0.8"/>
<line x1="161.43" y1="940" x2="164.53" y2="940" stroke="#173d57" stroke-width="0.8"/>
<polygon points="162.98,923.6 165.18,925.8 162.98,928 160.78,925.8" fill="#7ab3d3" stroke="#0b2639" stroke-width="1.25"/>
<line x1="175.22" y1="842.7" x2="175.22" y2="987.5" stroke="#636363" stroke-width="1.25"/>
<rect x="173.67" y="906.5" width="3.1" height="79.9" fill="#3688b8" stroke="#173d57" stroke-width="0.8"/>
<line x1="173.67" y1="953.7" x2="176.77" y2="953.7" stroke="#173d57" stroke-width="0.8"/>
<polygon points="175.22,932.8 177.42,935 175.22,937.2 173.02,935" fill="#7ab3d3" stroke="#0b2639" stroke-width="1.25"/>
<line x1="187.46" y1="877.6" x2="187.46" y2="987.5" stroke="#636363" stroke-width="1.25"/>
<rect x="185.91" y="898.1" width="3.1" height="87.3" fill="#3688b8" stroke="#173d57" stroke-width="0.8"/>
<line x1="185.91" y1="952" x2="189.01" y2="952" stroke="#173d57" stroke-width="0.8"/>
<polygon points="187.46,937.8 189.66,940 187.46,942.2 185.26,940" fill="#7ab3d3" stroke="#0b2639" stroke-width="1.25"/>
<line x1="199.7" y1="871.9" x2="199.7" y2="999.1" stroke="#636363" stroke-width="1.25"/>
<rect x="198.15" y="911" width="3.1" height="70.2" fill="#3688b8" stroke="#173d57" stroke-width="0.8"/>
<polygon points="199.7,937.8 201.9,940 199.7,942.2 197.5,940" fill="#7ab3d3" stroke="#0b2639" stroke-width="1.25"/>
<line x1="211.94" y1="866" x2="211.94" y2="990.7" stroke="#636363" stroke-width="1.25"/>
<rect x="210.39" y="901.2" width="3.1" height="71.9" fill="#3688b8" stroke="#173d57" stroke-width="0.8"/>
<line x1="210.39" y1="945.9" x2="213.49" y2="945.9" stroke="#173d57" stroke-width="0.8"/>
<polygon points="211.94,934.6 214.14,936.8 211.94,939 209.74,936.8" fill="#7ab3d3" stroke="#0b2639" stroke-width="1.25"/>
<line x1="224.18" y1="868" x2="224.18" y2="988" stroke="#636363" stroke-width="1.25"/>
<rect x="222.63" y="937.8" width="3.1" height="48.6" fill="#3688b8" stroke="#173d57" stroke-width="0.8"/>
<line x1="222.63" y1="968.5" x2="225.73" y2="968.5" stroke="#173d57" stroke-width="0.8"/>
<polygon points="224.18,947.3 226.38,949.5 224.18,951.7 221.98,949.5" fill="#7ab3d3" stroke="#0b2639" stroke-width="1.25"/>
<line x1="236.42" y1="883.9" x2="236.42" y2="996" stroke="#636363" stroke-width="1.25"/>
<rect x="234.87" y="933.6" width="3.1" height="57.1" fill="#3688b8" stroke="#173d57" stroke-width="0.8"/>
<line x1="234.87" y1="984.3" x2="237.97" y2="984.3" stroke="#173d57" stroke-width="0.8"/>
<polygon points="236.42,959.9 238.62,962.1 236.42,964.3 234.22,962.1" fill="#7ab3d3" stroke="#0b2639" stroke-width="1.25"/>
<line x1="315.98" y1="913.2" x2="315.98" y2="1001.7" stroke="#636363" stroke-width="1.25"/>
<rect x="314.43" y="932.6" width="3.1" height="60" fill="#3688b8" stroke="#173d57" stroke-width="0.8"/>
<line x1="314.43" y1="967.1" x2="317.53" y2="967.1" stroke="#173d57" stroke-width="0.8"/>
<polygon points="315.98,960.4 318.18,962.6 315.98,964.8 313.78,962.6" fill="#7ab3d3" stroke="#0b2639" stroke-width="1.25"/>
<line x1="395.54" y1="976" x2="395.54" y2="1001.7" stroke="#636363" stroke-width="1.25"/>
<rect x="393.99" y="976" width="3.1" height="16.1" fill="#3688b8" stroke="#173d57" stroke-width="0.8"/>
<polygon points="395.54,977.1 397.74,979.3 395.54,981.5 393.34,979.3" fill="#7ab3d3" stroke="#0b2639" stroke-width="1.25"/>
<circle cx="395.54" cy="942.1" r="1.8" fill="none" stroke="#333" stroke-width="0.9"/>
<line x1="475.1" y1="901" x2="475.1" y2="989.9" stroke="#636363" stroke-width="1.25"/>
<rect x="473.55" y="901" width="3.1" height="88.9" fill="#3688b8" stroke="#173d57" stroke-width="0.8"/>
<polygon points="475.1,943.2 477.3,945.4 475.1,947.6 472.9,945.4" fill="#7ab3d3" stroke="#0b2639" stroke-width="1.25"/>
<rect x="0.5" y="0.5" width="519" height="1080" fill="none" stroke="#212121" stroke-width="1"/>
</svg>
</body></html>
